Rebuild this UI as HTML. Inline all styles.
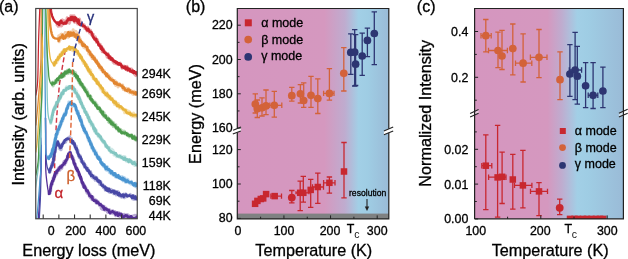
<!DOCTYPE html>
<html><head><meta charset="utf-8"><style>
html,body{margin:0;padding:0;background:#fff;}
svg{display:block;font-family:"Liberation Sans", sans-serif;will-change:transform;}
</style></head><body>
<svg width="628" height="259" viewBox="0 0 628 259">
<rect width="628" height="259" fill="#fff"/>
<defs><clipPath id="ca"><rect x="35.75" y="8.5" width="101.5" height="210.25"/></clipPath><clipPath id="cb"><rect x="237.3" y="8.5" width="151.5" height="210.5"/></clipPath><clipPath id="cc"><rect x="474.6" y="8.5" width="148.8" height="210.5"/></clipPath><linearGradient id="gb" x1="237.3" x2="388.8" y1="0" y2="0" gradientUnits="userSpaceOnUse"><stop offset="0" stop-color="#d596bf"/><stop offset="0.575" stop-color="#d598bf"/><stop offset="0.71" stop-color="#bfaccf"/><stop offset="0.8" stop-color="#a2cfe6"/><stop offset="0.86" stop-color="#9fcde4"/><stop offset="1" stop-color="#9abbd7"/></linearGradient><linearGradient id="gc" x1="474.6" x2="623.4" y1="0" y2="0" gradientUnits="userSpaceOnUse"><stop offset="0" stop-color="#d596bf"/><stop offset="0.49" stop-color="#d598bf"/><stop offset="0.585" stop-color="#bfaccf"/><stop offset="0.69" stop-color="#a2cfe6"/><stop offset="0.76" stop-color="#9fcde4"/><stop offset="1" stop-color="#9abbd7"/></linearGradient></defs>
<g clip-path="url(#ca)" fill="none" stroke-width="1.45" stroke-dasharray="5,2.6">
<path d="M65.3,50 L59.4,84.4 L56.6,118 L54.7,158 L54.6,174" stroke="#d23645"/>
</g>
<g clip-path="url(#ca)" fill="none" stroke-linejoin="round" stroke-linecap="round">
<path d="M38.3,222 L38.32,221.44 L38.34,220.74 L38.37,219.91 L38.41,218.93 L38.45,217.79 L38.52,216.48 L38.6,215 L38.65,214.24 L38.7,213.44 L38.76,212.59 L38.82,211.7 L38.89,210.78 L38.96,209.82 L39.04,208.82 L39.11,207.8 L39.19,206.74 L39.26,205.67 L39.34,204.57 L39.41,203.45 L39.48,202.31 L39.54,201.16 L39.6,200 L39.64,199.11 L39.68,198.18 L39.72,197.22 L39.76,196.24 L39.79,195.23 L39.83,194.21 L39.86,193.17 L39.9,192.12 L39.93,191.06 L39.96,190 L39.99,188.94 L40.03,187.88 L40.06,186.83 L40.09,185.79 L40.12,184.77 L40.16,183.76 L40.19,182.78 L40.23,181.82 L40.26,180.89 L40.3,180 L40.35,178.87 L40.41,177.79 L40.47,176.76 L40.53,175.77 L40.59,174.81 L40.66,173.88 L40.72,172.96 L40.78,172.04 L40.84,171.12 L40.9,170.19 L40.95,169.23 L41,168.24 L41.04,167.21 L41.07,166.13 L41.1,165 L41.12,164.09 L41.13,163.11 L41.13,162.08 L41.14,161 L41.14,159.88 L41.13,158.74 L41.13,157.57 L41.12,156.4 L41.11,155.23 L41.1,154.06 L41.09,152.92 L41.08,151.8 L41.06,150.72 L41.05,149.69 L41.04,148.71 L41.03,147.8 L41.02,146.96 L41.01,146.21 L41,145.55 L41,145" stroke="#552f97" stroke-width="1.25"/>
<path d="M45.5,118 L45.5,118.55 L45.51,119.21 L45.52,119.97 L45.53,120.81 L45.53,121.74 L45.54,122.75 L45.55,123.83 L45.56,124.96 L45.57,126.16 L45.58,127.4 L45.59,128.68 L45.6,130 L45.61,130.82 L45.61,131.68 L45.62,132.57 L45.62,133.49 L45.62,134.44 L45.63,135.41 L45.64,136.41 L45.64,137.42 L45.65,138.46 L45.65,139.5 L45.66,140.55 L45.66,141.62 L45.66,142.68 L45.67,143.75 L45.68,144.81 L45.68,145.87 L45.69,146.92 L45.69,147.96 L45.7,148.99 L45.7,150 L45.7,151.01 L45.71,152.03 L45.7,153.07 L45.7,154.11 L45.7,155.16 L45.7,156.22 L45.69,157.28 L45.69,158.34 L45.68,159.39 L45.68,160.44 L45.68,161.48 L45.68,162.5 L45.68,163.52 L45.69,164.51 L45.7,165.49 L45.71,166.45 L45.73,167.38 L45.75,168.28 L45.77,169.16 L45.8,170 L45.86,171.24 L45.92,172.44 L46,173.58 L46.09,174.68 L46.18,175.74 L46.28,176.76 L46.38,177.74 L46.49,178.68 L46.59,179.6 L46.7,180.48 L46.8,181.35 L46.9,182.18 L47,183 L47.15,184.27 L47.31,185.46 L47.47,186.57 L47.63,187.61 L47.78,188.56 L47.93,189.45 L48.07,190.26 L48.2,191 L48.53,192.57 L48.81,193.62 L49,194.3" stroke="#552f97" stroke-width="1.3"/>
<path d="M49,192.19 L49.16,191.78 L49.39,192.36 L49.66,191.6 L49.94,192.75 L50.2,193.05 L50.34,190.14 L50.47,191.66 L50.59,191.16 L50.72,190.24 L50.85,186.79 L51.01,185.32 L51.19,184.52 L51.4,183.54 L51.58,182.95 L51.77,184.19 L51.97,184.77 L52.18,183.83 L52.41,181.53 L52.64,181.62 L52.88,181.59 L53.13,177.71 L53.39,179.61 L53.64,180.07 L53.9,178.86 L54.19,178.02 L54.49,176.1 L54.81,174.05 L55.12,176.08 L55.45,173.34 L55.78,174.77 L56.11,174.9 L56.44,171.71 L56.77,171.17 L57.1,173.1 L57.63,171.41 L58.14,168.41 L58.65,167.79 L59.19,167.48 L59.76,170.37 L60.4,169.27 L60.82,165.85 L61.26,168.4 L61.73,168.56 L62.21,166.56 L62.7,164.6 L63.2,164.89 L63.71,162.39 L64.21,161.21 L64.71,164.81 L65.2,162.67 L65.57,161.5 L65.95,162.59 L66.32,159.53 L66.7,160.62 L67.08,159.51 L67.45,155.86 L67.83,155.18 L68.21,154.58 L68.59,153.64 L68.97,154.63 L69.35,152.75 L69.72,153.24 L70.1,151.95 L70.39,155.59 L70.68,153.38 L70.96,154.24 L71.25,155.3 L71.54,157.33 L71.83,155.82 L72.12,158.77 L72.41,157.69 L72.69,158.64 L72.98,159.45 L73.27,158.05 L73.56,160.8 L73.85,160.51 L74.14,160.54 L74.42,164.9 L74.71,162.84 L75,164.88 L75.29,166.67 L75.58,166.56 L75.87,166.18 L76.16,167.69 L76.44,168.5 L76.73,170.17 L77.02,167.77 L77.31,170.44 L77.6,169.69 L77.89,170.46 L78.18,173.32 L78.47,172.77 L78.75,173.66 L79.04,175.2 L79.33,176.53 L79.61,175.09 L79.9,176.5 L80.18,176.7 L80.47,177.41 L80.75,178.92 L81.03,178.55 L81.32,179.63 L81.6,180.1 L81.88,182.9 L82.16,182.53 L82.44,184.04 L82.72,185.03 L83,182.67 L83.28,184.69 L83.57,187.07 L83.85,187.25 L84.13,184.72 L84.42,185.24 L84.7,187.24 L85.1,186.33 L85.49,187.77 L85.88,187.67 L86.27,190.94 L86.65,192.03 L87.04,193.09 L87.44,190.3 L87.84,193.35 L88.26,193.63 L88.69,191.86 L89.14,195.73 L89.6,196.69 L90.04,193.9 L90.5,197.75 L90.96,195.83 L91.43,196.8 L91.91,199.62 L92.4,199.49 L92.9,197.05 L93.41,198.83 L93.93,199.77 L94.46,199.54 L95,199.45 L95.54,200.55 L96.1,202.9 L96.63,200.25 L97.17,203.14 L97.73,203.14 L98.3,201.75 L98.87,203.66 L99.46,205.47 L100.05,205.46 L100.64,203.94 L101.24,208.54 L101.84,208.12 L102.44,209.38 L103.03,205.93 L103.62,207.06 L104.2,206.44 L104.87,210.18 L105.55,208.31 L106.22,208.06 L106.9,209.73 L107.57,212.27 L108.24,212.19 L108.92,209.99 L109.59,209.8 L110.27,213.54 L110.94,212.27 L111.62,213.13 L112.3,210.66 L112.98,210.78 L113.66,213.85 L114.35,212.91 L115.03,211.55 L115.71,215.65 L116.4,214.49 L117.09,215.44 L117.77,212.41 L118.45,216.06 L119.14,212.7 L119.82,216.45 L120.5,214.79 L121.24,214.47 L121.98,215.62 L122.72,217.48 L123.45,214.71 L124.19,214.26 L124.92,216.21 L125.66,215.08 L126.39,214.65 L127.13,215.03 L127.86,214.66 L128.6,215.46 L129.36,216.07 L130.15,216.14 L130.97,218.27 L131.79,216.25 L132.61,217.27 L133.41,215.89 L134.18,216.71 L134.91,215.29 L135.58,216.39 L136.18,215.38 L136.7,218.64 L137.98,217.95 L138.62,216.38 L139,217.69" stroke="#552f97" stroke-width="3.0" stroke-opacity="0.4"/>
<path d="M49,193.81 L49.22,192.8 L49.52,193.45 L49.87,190.9 L50.2,191.1 L50.36,189.91 L50.5,188.26 L50.65,188.67 L50.79,186.45 L50.96,186.63 L51.16,184.65 L51.4,183.75 L51.62,183.93 L51.85,184.26 L52.11,181.47 L52.38,180.92 L52.67,181.21 L52.97,181.27 L53.27,179.41 L53.58,178.09 L53.9,178.93 L54.22,175.55 L54.56,177.04 L54.91,174.66 L55.27,173.48 L55.63,172.65 L56,172.46 L56.37,173.19 L56.74,170.78 L57.1,171.33 L57.73,170.68 L58.34,169.35 L58.97,169.35 L59.64,167.44 L60.4,166.67 L60.87,166.55 L61.36,167.32 L61.89,166.02 L62.42,165.08 L62.98,165.18 L63.54,164.12 L64.1,162.97 L64.65,163.6 L65.2,162.56 L65.6,160.61 L66.01,160.72 L66.42,159.68 L66.83,159.7 L67.23,158.32 L67.64,156.12 L68.05,157.17 L68.46,153.96 L68.87,154.14 L69.28,154.6 L69.69,152.64 L70.1,153.57 L70.43,152.5 L70.75,154.6 L71.08,155.36 L71.41,155.44 L71.73,157 L72.06,156.23 L72.39,158.18 L72.71,158.82 L73.04,159.74 L73.37,160.37 L73.69,162.42 L74.02,163.67 L74.35,163.27 L74.67,164.67 L75,163.77 L75.33,166.31 L75.65,166.89 L75.98,168.6 L76.31,168.85 L76.64,168.07 L76.96,169.09 L77.29,170.6 L77.62,169.52 L77.95,171.48 L78.27,171.38 L78.6,171.97 L78.93,172.54 L79.25,175.26 L79.58,174.22 L79.9,175.29 L80.22,176.46 L80.54,178.58 L80.86,177.16 L81.18,179 L81.5,180.1 L81.82,181.85 L82.14,182.48 L82.46,183.42 L82.78,182.57 L83.1,183.74 L83.42,184.34 L83.74,186.55 L84.06,187.46 L84.38,185.88 L84.7,186.59 L85.18,187.64 L85.65,188.45 L86.11,189.9 L86.58,190.9 L87.04,190.65 L87.52,190.57 L88.01,192.37 L88.52,192.87 L89.04,194.09 L89.6,195.87 L90.08,195.74 L90.57,195.86 L91.07,196.76 L91.59,197.54 L92.11,196.41 L92.65,199.4 L93.2,199.68 L93.76,200.56 L94.32,200.95 L94.91,200.42 L95.5,201.03 L96.1,200.79 L96.67,202.81 L97.26,201.75 L97.86,202.31 L98.47,203.25 L99.1,203.66 L99.73,204.69 L100.37,204.42 L101.01,204.78 L101.66,205.71 L102.3,206.05 L102.94,207.25 L103.57,206.75 L104.2,209.55 L104.94,209.29 L105.67,208.42 L106.41,209.13 L107.14,209.78 L107.88,210.2 L108.61,209.87 L109.35,212.24 L110.08,212.97 L110.82,211.8 L111.56,212.16 L112.3,211.34 L113.12,211.7 L113.94,212.67 L114.76,212.72 L115.58,214.56 L116.4,212.94 L117.22,212.79 L118.04,215.61 L118.86,214.65 L119.68,213.8 L120.5,215.12 L121.31,213.89 L122.13,215.5 L122.94,216.96 L123.75,216.84 L124.56,216.56 L125.36,215.52 L126.17,215.98 L126.98,215.58 L127.79,217.43 L128.6,216.89 L129.44,217.7 L130.31,216.56 L131.21,216.36 L132.12,218.09 L133.01,218.66 L133.88,218.36 L134.7,218.29 L135.45,218.39 L136.12,218.22 L136.7,216.83 L138.36,217.8 L139,217.4" stroke="#552f97" stroke-width="2.7"/>
<path d="M39.1,222 L39.13,221.48 L39.17,220.89 L39.21,220.17 L39.27,219.28 L39.33,218.15 L39.41,216.74 L39.5,215 L39.54,214.31 L39.58,213.57 L39.62,212.8 L39.67,211.99 L39.72,211.15 L39.77,210.27 L39.82,209.36 L39.88,208.42 L39.93,207.44 L39.99,206.44 L40.04,205.4 L40.1,204.34 L40.16,203.26 L40.21,202.14 L40.26,201.01 L40.32,199.85 L40.37,198.67 L40.41,197.46 L40.46,196.24 L40.5,195 L40.53,194.15 L40.55,193.27 L40.58,192.36 L40.61,191.42 L40.63,190.46 L40.66,189.48 L40.68,188.48 L40.71,187.46 L40.73,186.42 L40.76,185.37 L40.78,184.31 L40.8,183.24 L40.83,182.16 L40.85,181.08 L40.87,180 L40.89,178.92 L40.91,177.84 L40.93,176.76 L40.95,175.69 L40.97,174.63 L40.98,173.58 L41,172.54 L41.02,171.52 L41.03,170.52 L41.05,169.54 L41.06,168.58 L41.07,167.64 L41.08,166.73 L41.09,165.85 L41.1,165 L41.11,163.76 L41.12,162.54 L41.12,161.33 L41.13,160.15 L41.13,158.99 L41.12,157.86 L41.12,156.74 L41.12,155.66 L41.11,154.6 L41.1,153.56 L41.09,152.56 L41.08,151.58 L41.07,150.64 L41.06,149.73 L41.05,148.85 L41.04,148.01 L41.03,147.2 L41.02,146.43 L41.01,145.69 L41,145 L40.97,143.26 L40.94,141.85 L40.91,140.72 L40.88,139.83 L40.85,139.11 L40.82,138.52 L40.8,138" stroke="#4848a6" stroke-width="1.25"/>
<path d="M45.5,118 L45.5,118.55 L45.51,119.21 L45.52,119.97 L45.53,120.81 L45.53,121.74 L45.54,122.75 L45.55,123.83 L45.56,124.96 L45.57,126.16 L45.58,127.4 L45.59,128.68 L45.6,130 L45.6,130.83 L45.61,131.71 L45.61,132.63 L45.61,133.6 L45.61,134.6 L45.61,135.63 L45.61,136.69 L45.61,137.76 L45.61,138.85 L45.61,139.94 L45.61,141.03 L45.61,142.12 L45.61,143.2 L45.62,144.26 L45.63,145.3 L45.64,146.32 L45.65,147.3 L45.66,148.25 L45.68,149.15 L45.7,150 L45.74,151.25 L45.78,152.45 L45.82,153.6 L45.87,154.71 L45.92,155.78 L45.97,156.81 L46.03,157.8 L46.09,158.76 L46.16,159.67 L46.24,160.55 L46.32,161.4 L46.41,162.22 L46.5,163 L46.7,164.37 L46.93,165.61 L47.19,166.73 L47.45,167.73 L47.72,168.61 L47.97,169.37 L48.2,170 L48.96,170.94 L49.5,171" stroke="#4848a6" stroke-width="1.3"/>
<path d="M49.5,170.43 L49.7,170.08 L49.97,172.18 L50.29,169.61 L50.64,167.76 L51,167.18 L51.23,165.94 L51.46,164.37 L51.71,164.04 L51.97,166.72 L52.23,163.59 L52.49,165.76 L52.75,161.84 L53,160.95 L53.13,161.47 L53.27,159.4 L53.4,159.55 L53.53,161.44 L53.66,160.37 L53.8,159.28 L53.93,157.68 L54.06,158.15 L54.19,157.47 L54.33,154.91 L54.46,154.89 L54.59,151.12 L54.73,153.43 L54.86,151.45 L55,152.13 L55.17,150.81 L55.35,148.35 L55.53,146.42 L55.72,149.49 L55.9,145.06 L56.09,145.79 L56.27,144.44 L56.45,143.52 L56.62,144.85 L56.79,145.35 L56.95,141.68 L57.1,143.1 L57.6,141.2 L58.02,143.17 L58.5,143.53 L58.78,143.12 L59.07,143.92 L59.38,145.01 L59.7,148.95 L60.04,147.73 L60.4,146.75 L60.79,149.68 L61.2,149.65 L61.63,146.56 L62.08,144.4 L62.54,143.85 L63,142.67 L63.41,143.18 L63.84,141.37 L64.28,141.33 L64.73,140.7 L65.17,141.42 L65.59,142.24 L66,141.12 L66.66,138.91 L67.28,138.38 L67.89,138.53 L68.5,137.75 L69.09,137.67 L69.66,136.73 L70.27,138.22 L71,142.1 L71.38,138.75 L71.79,140.92 L72.22,142.02 L72.67,143.64 L73.14,141.36 L73.61,142.28 L74.08,142.9 L74.55,144.34 L75,145.36 L75.29,148.19 L75.57,148.32 L75.86,149.06 L76.14,145.91 L76.42,146.64 L76.71,150.37 L76.99,151.92 L77.28,150.75 L77.56,151.98 L77.85,150.07 L78.14,152.52 L78.42,155.61 L78.71,155.82 L79,156.59 L79.33,157.83 L79.65,155.27 L79.96,155.31 L80.27,156.16 L80.58,158.45 L80.89,159.8 L81.22,161.59 L81.55,161.25 L81.9,161.57 L82.28,162.77 L82.67,162.09 L83.1,163.23 L83.44,161.5 L83.79,165.41 L84.15,163.54 L84.52,167.23 L84.9,166.62 L85.29,165.72 L85.69,165.56 L86.1,166.75 L86.52,169.11 L86.94,170.02 L87.37,168.01 L87.81,168.44 L88.25,171.08 L88.69,171.94 L89.15,171.64 L89.6,171.46 L90.06,173.69 L90.54,171.57 L91.02,173.39 L91.51,174.6 L92.01,177.33 L92.52,176.4 L93.03,177.95 L93.55,176.6 L94.07,175.99 L94.59,176.51 L95.12,180.18 L95.64,179.5 L96.16,178.19 L96.68,177.39 L97.19,180 L97.7,181.28 L98.21,180.65 L98.72,180.44 L99.23,182.81 L99.75,184.51 L100.26,181.93 L100.78,181.62 L101.29,183.53 L101.81,184.44 L102.32,186.15 L102.83,184.5 L103.34,187.69 L103.84,187.92 L104.34,187.33 L104.83,186.42 L105.32,190.24 L105.8,187.66 L106.48,190.39 L107.14,188.13 L107.78,188.41 L108.4,191.1 L109.03,189.24 L109.65,192.4 L110.28,190.55 L110.92,189.37 L111.59,189.74 L112.28,190.85 L113,192.24 L113.59,193.76 L114.21,190.43 L114.84,191.81 L115.49,191.29 L116.15,194.99 L116.82,191.56 L117.49,191.45 L118.17,191.77 L118.85,193.55 L119.52,196.08 L120.18,196.27 L120.84,195.83 L121.48,197.24 L122.1,197.13 L122.88,194.64 L123.66,194.17 L124.42,197.68 L125.19,196.95 L125.94,193.85 L126.68,196.77 L127.41,195.58 L128.13,195.64 L128.84,195.54 L129.53,194.91 L130.2,194.27 L131.02,195.67 L131.83,196.16 L132.64,199.05 L133.43,195.5 L134.19,199.44 L134.9,196.22 L135.57,197.03 L136.17,199.24 L136.7,199.34 L137.86,197.73 L138.56,196 L139,197.88" stroke="#4848a6" stroke-width="3.0" stroke-opacity="0.4"/>
<path d="M49.5,172.22 L49.76,169.32 L50.12,170.49 L50.55,168.41 L51,167.49 L51.26,167.8 L51.53,165.94 L51.82,165.59 L52.12,165.37 L52.41,165.38 L52.71,162.65 L53,162.93 L53.15,161.91 L53.31,160.97 L53.46,159.52 L53.61,158.52 L53.76,156.81 L53.92,156.12 L54.07,155.03 L54.22,155.98 L54.38,153.7 L54.53,152.54 L54.69,151.45 L54.84,152.74 L55,152.04 L55.19,150.57 L55.39,148.54 L55.58,147.48 L55.79,146.69 L55.99,146.24 L56.19,144.53 L56.38,144.52 L56.58,143.28 L56.76,144.6 L56.94,144.11 L57.1,142.53 L57.81,141.7 L58.5,145.3 L58.84,144.23 L59.19,145.39 L59.57,145.43 L59.97,147.31 L60.4,147.93 L60.87,147.8 L61.37,146.35 L61.9,146.35 L62.44,144 L63,143.84 L63.48,142.63 L63.99,142.69 L64.51,140.85 L65.02,139.99 L65.52,140.05 L66,139.25 L66.87,139.34 L67.69,138.59 L68.5,139 L69.28,138.91 L70.06,139.62 L71,141.06 L71.43,140.18 L71.89,140.55 L72.39,143 L72.91,141.34 L73.43,143.68 L73.96,144.24 L74.49,143.41 L75,146.54 L75.33,147.35 L75.67,147.32 L76,148.37 L76.33,149.38 L76.66,148.31 L76.99,150.22 L77.33,151 L77.66,152.77 L77.99,153.51 L78.33,154.38 L78.66,154.49 L79,156.1 L79.36,156.29 L79.71,157.06 L80.05,156.48 L80.38,156.63 L80.72,157.61 L81.07,158.94 L81.43,158.92 L81.81,161.67 L82.21,161.62 L82.64,162.57 L83.1,163.35 L83.49,164.15 L83.89,164.28 L84.31,163.61 L84.74,166.54 L85.18,167.11 L85.63,167.15 L86.1,167.96 L86.58,169.03 L87.06,168.09 L87.56,170.68 L88.06,170.02 L88.57,170.21 L89.08,171.41 L89.6,173.34 L90.13,172.49 L90.67,174.58 L91.23,175.83 L91.8,175.04 L92.37,175.29 L92.96,176.11 L93.55,177.22 L94.14,177.99 L94.74,178.1 L95.34,178.71 L95.94,177.67 L96.53,178.4 L97.12,179.25 L97.7,181.18 L98.28,180.53 L98.87,181.87 L99.45,180.93 L100.04,181.69 L100.63,182.9 L101.22,184.66 L101.81,185.34 L102.39,185.9 L102.97,185.42 L103.55,186.62 L104.12,187.01 L104.69,187.52 L105.25,187.01 L105.8,189.6 L106.63,188.21 L107.42,190.83 L108.2,191.07 L108.96,188.79 L109.72,190.28 L110.49,191.53 L111.29,192.19 L112.12,191.02 L113,190.85 L113.69,190.98 L114.42,193.35 L115.16,191.62 L115.93,193 L116.71,192.11 L117.49,193.52 L118.28,195.06 L119.07,193.09 L119.85,195.32 L120.62,194.74 L121.37,196.06 L122.1,195.77 L122.96,194.67 L123.81,196.73 L124.65,195.72 L125.49,194.56 L126.31,194.6 L127.12,196.06 L127.92,196.04 L128.7,195.72 L129.46,195.37 L130.2,196.06 L131.12,196.16 L132.04,197.83 L132.94,195.68 L133.81,197.98 L134.64,198.42 L135.41,196.58 L136.1,198.98 L136.7,198.5 L138.26,199.16 L139,197.41" stroke="#4848a6" stroke-width="2.7"/>
<path d="M36.3,222 L36.36,221.48 L36.43,220.9 L36.51,220.27 L36.6,219.56 L36.69,218.76 L36.8,217.88 L36.91,216.88 L37.04,215.78 L37.17,214.55 L37.3,213.18 L37.45,211.67 L37.6,210 L37.66,209.27 L37.73,208.49 L37.8,207.66 L37.87,206.79 L37.95,205.87 L38.03,204.91 L38.11,203.92 L38.2,202.9 L38.28,201.85 L38.37,200.78 L38.45,199.69 L38.54,198.58 L38.63,197.45 L38.72,196.32 L38.81,195.19 L38.9,194.05 L38.99,192.91 L39.08,191.78 L39.17,190.66 L39.26,189.56 L39.34,188.46 L39.42,187.39 L39.51,186.35 L39.59,185.33 L39.66,184.34 L39.74,183.39 L39.81,182.47 L39.88,181.6 L39.94,180.78 L40,180 L40.11,178.57 L40.22,177.29 L40.32,176.12 L40.42,175.05 L40.51,174.07 L40.59,173.16 L40.67,172.29 L40.74,171.46 L40.81,170.64 L40.87,169.81 L40.93,168.97 L40.98,168.08 L41.02,167.13 L41.06,166.11 L41.1,165 L41.12,164.1 L41.14,163.14 L41.15,162.15 L41.16,161.11 L41.16,160.05 L41.16,158.96 L41.16,157.85 L41.15,156.74 L41.14,155.62 L41.13,154.5 L41.12,153.39 L41.1,152.3 L41.09,151.24 L41.08,150.2 L41.06,149.2 L41.05,148.25 L41.03,147.34 L41.02,146.5 L41.01,145.71 L41,145 L40.97,143.59 L40.92,142.96 L40.87,142.72 L40.82,142.49 L40.79,141.88 L40.78,140.51 L40.8,138 L40.81,137.39 L40.82,136.73 L40.83,136.04 L40.84,135.32 L40.86,134.55 L40.87,133.76 L40.89,132.93 L40.9,132.07 L40.92,131.18 L40.94,130.27 L40.96,129.32 L40.98,128.36 L41,127.37 L41.02,126.36 L41.04,125.34 L41.07,124.29 L41.09,123.23 L41.11,122.15 L41.14,121.06 L41.16,119.96 L41.19,118.85 L41.21,117.73 L41.24,116.61 L41.26,115.48 L41.29,114.34 L41.31,113.21 L41.34,112.07 L41.36,110.93 L41.39,109.8 L41.41,108.67 L41.44,107.55 L41.46,106.44 L41.49,105.33 L41.51,104.24 L41.53,103.16 L41.56,102.09 L41.58,101.04 L41.6,100 L41.62,99.01 L41.64,98 L41.66,96.96 L41.68,95.9 L41.71,94.82 L41.73,93.73 L41.75,92.61 L41.77,91.49 L41.8,90.35 L41.82,89.2 L41.84,88.05 L41.87,86.89 L41.89,85.72 L41.91,84.56 L41.94,83.39 L41.96,82.22 L41.98,81.06 L42,79.91 L42.03,78.76 L42.05,77.62 L42.07,76.5 L42.09,75.39 L42.12,74.29 L42.14,73.22 L42.16,72.16 L42.18,71.12 L42.2,70.11 L42.22,69.12 L42.24,68.16 L42.26,67.23 L42.27,66.34 L42.29,65.47 L42.31,64.64 L42.32,63.85 L42.34,63.1 L42.35,62.39 L42.37,61.72 L42.38,61.1 L42.39,60.53 L42.4,60" stroke="#4a95d1" stroke-width="1.25"/>
<path d="M45.3,-5 L45.3,-4.53 L45.3,-4.11 L45.31,-3.69 L45.31,-3.24 L45.32,-2.72 L45.32,-2.11 L45.33,-1.36 L45.33,-0.43 L45.33,0.7 L45.33,2.07 L45.32,3.72 L45.31,5.69 L45.3,8 L45.3,8.64 L45.29,9.3 L45.29,9.99 L45.28,10.71 L45.27,11.44 L45.27,12.2 L45.26,12.99 L45.25,13.79 L45.24,14.62 L45.23,15.46 L45.22,16.33 L45.21,17.21 L45.2,18.12 L45.19,19.04 L45.18,19.97 L45.17,20.93 L45.16,21.9 L45.15,22.88 L45.14,23.88 L45.13,24.89 L45.12,25.91 L45.11,26.94 L45.1,27.99 L45.08,29.05 L45.07,30.11 L45.06,31.19 L45.05,32.27 L45.04,33.36 L45.03,34.46 L45.02,35.56 L45.01,36.67 L45,37.79 L44.99,38.91 L44.98,40.03 L44.97,41.15 L44.96,42.28 L44.95,43.41 L44.95,44.54 L44.94,45.66 L44.93,46.79 L44.93,47.92 L44.92,49.04 L44.92,50.16 L44.91,51.28 L44.91,52.39 L44.9,53.5 L44.9,54.6 L44.9,55.7 L44.9,56.79 L44.9,57.87 L44.9,58.94 L44.9,60 L44.9,60.95 L44.9,61.92 L44.91,62.89 L44.91,63.88 L44.92,64.87 L44.92,65.88 L44.93,66.89 L44.93,67.91 L44.94,68.93 L44.95,69.97 L44.96,71.01 L44.97,72.05 L44.97,73.1 L44.98,74.16 L44.99,75.22 L45,76.28 L45.01,77.35 L45.03,78.42 L45.04,79.49 L45.05,80.57 L45.06,81.65 L45.07,82.72 L45.08,83.8 L45.1,84.88 L45.11,85.96 L45.12,87.03 L45.14,88.11 L45.15,89.18 L45.16,90.25 L45.18,91.32 L45.19,92.38 L45.2,93.44 L45.22,94.5 L45.23,95.55 L45.24,96.59 L45.26,97.63 L45.27,98.66 L45.28,99.69 L45.3,100.71 L45.31,101.72 L45.32,102.72 L45.34,103.72 L45.35,104.7 L45.36,105.67 L45.37,106.64 L45.38,107.59 L45.4,108.53 L45.41,109.46 L45.42,110.38 L45.43,111.28 L45.44,112.17 L45.45,113.05 L45.46,113.92 L45.47,114.76 L45.48,115.6 L45.49,116.41 L45.49,117.22 L45.5,118 L45.51,119.39 L45.52,120.76 L45.53,122.11 L45.54,123.43 L45.55,124.72 L45.55,125.99 L45.56,127.24 L45.56,128.46 L45.57,129.66 L45.57,130.83 L45.58,131.97 L45.58,133.09 L45.58,134.18 L45.58,135.25 L45.59,136.3 L45.59,137.31 L45.59,138.3 L45.59,139.27 L45.6,140.21 L45.6,141.12 L45.6,142.01 L45.61,142.87 L45.61,143.7 L45.62,144.51 L45.62,145.29 L45.63,146.04 L45.64,146.77 L45.65,147.47 L45.66,148.14 L45.67,148.79 L45.69,149.41 L45.7,150 L45.81,152.76 L45.93,154.04 L46.09,154.44 L46.27,154.56 L46.5,155 L47.06,156.26 L47.73,157.3 L48.2,158" stroke="#4a95d1" stroke-width="1.3"/>
<path d="M48.2,158.45 L48.61,157.96 L49.21,157.94 L49.87,155.96 L50.5,155.64 L50.76,155.89 L51.02,154.64 L51.28,155.08 L51.54,153.48 L51.8,152.75 L52.06,150.16 L52.31,152.08 L52.56,150.73 L52.8,148.81 L52.99,150.53 L53.18,149.92 L53.37,147.78 L53.56,145.8 L53.74,146.38 L53.92,143.99 L54.1,143.33 L54.28,143.92 L54.45,141.65 L54.63,142.47 L54.8,142.05 L54.96,139.22 L55.11,141.18 L55.25,137.99 L55.39,140.2 L55.52,139.69 L55.66,137.79 L55.81,135.02 L55.97,136.31 L56.15,135 L56.36,136.8 L56.6,132.37 L56.81,134.96 L57.05,134.91 L57.31,133.03 L57.58,132.7 L57.87,129.19 L58.16,131.99 L58.46,129.07 L58.76,130.43 L59.06,129.54 L59.36,125.48 L59.64,127.6 L59.91,127.6 L60.17,123.12 L60.4,123.83 L60.76,124.76 L61.08,121.3 L61.37,123.91 L61.64,120.47 L61.9,122.27 L62.18,118.62 L62.47,119.55 L62.8,120.68 L63.09,116.87 L63.39,116.49 L63.7,116.94 L64.02,115.46 L64.34,113.54 L64.67,113.52 L65.01,112.73 L65.34,115.49 L65.67,113.59 L66,113.77 L66.25,109.86 L66.51,111.89 L66.78,108.1 L67.04,109.14 L67.31,108.77 L67.58,106.69 L67.84,108.16 L68.11,105.94 L68.36,105.3 L68.61,105.98 L68.85,101.9 L69.08,105.38 L69.3,103.38 L70.1,101.97 L70.77,104.59 L71.5,102.95 L72.34,106.22 L73.24,104.34 L74.2,104.07 L74.47,106.3 L74.75,105.35 L75.03,104.74 L75.32,107.92 L75.62,105.5 L75.91,109.68 L76.21,107.9 L76.51,110.39 L76.81,112.7 L77.1,111.66 L77.4,112.73 L77.67,111.82 L77.95,111.1 L78.24,111.93 L78.53,113.15 L78.81,115.94 L79.1,115.83 L79.38,116.89 L79.66,119.31 L79.94,116.58 L80.2,117.68 L80.46,120.25 L80.7,118.06 L80.97,118.69 L81.2,120.94 L81.41,120.46 L81.6,122.2 L81.8,122.22 L82,124.46 L82.22,125.13 L82.47,124.1 L82.76,126.73 L83.1,126.89 L83.34,125.92 L83.59,130.09 L83.87,127.58 L84.15,127.78 L84.45,128.18 L84.76,131.26 L85.08,132.97 L85.4,133.25 L85.73,132.23 L86.06,132.31 L86.39,131.87 L86.72,135.4 L87.05,135.73 L87.38,135.47 L87.69,137.48 L88,137.25 L88.28,140.1 L88.57,139.83 L88.85,138.32 L89.13,141.91 L89.41,138.73 L89.69,141.59 L89.96,141.7 L90.24,141.61 L90.52,141.48 L90.8,145.37 L91.08,142.6 L91.36,145.66 L91.65,148.05 L91.93,145.1 L92.22,145.97 L92.51,148.4 L92.8,148.53 L93.16,149.82 L93.51,151.25 L93.87,149.02 L94.23,150.24 L94.59,150.8 L94.95,150.27 L95.31,154.62 L95.68,154.72 L96.05,154.99 L96.43,152.4 L96.81,156.73 L97.2,156.88 L97.6,156.23 L98,158.08 L98.38,157.38 L98.76,156.96 L99.15,157.04 L99.53,158.22 L99.92,157.98 L100.32,159.94 L100.72,162.42 L101.12,162.8 L101.54,164.09 L101.96,164.1 L102.38,162.7 L102.82,164.58 L103.27,164.62 L103.73,166.76 L104.2,166.1 L104.68,165.47 L105.18,167.66 L105.7,169.6 L106.22,166.73 L106.76,170.17 L107.3,166.76 L107.85,168.31 L108.4,168.64 L108.96,171.35 L109.52,172.68 L110.08,172.21 L110.64,170.74 L111.2,173.62 L111.75,171.54 L112.3,171.53 L112.93,174.96 L113.56,174.14 L114.19,174.83 L114.82,175.1 L115.45,176.88 L116.08,174.97 L116.72,177 L117.35,176.72 L117.98,177.79 L118.61,176.26 L119.24,177.9 L119.87,177.56 L120.5,176.74 L121.13,176.67 L121.75,178.86 L122.38,176.78 L123,180.87 L123.62,177.79 L124.25,177.61 L124.87,178.31 L125.49,182.33 L126.11,180.05 L126.73,179.47 L127.35,179.28 L127.98,179.65 L128.6,182.86 L129.29,182.92 L130.02,183.53 L130.76,184.04 L131.51,181.35 L132.27,184.02 L133.01,183.3 L133.74,185.62 L134.43,185.9 L135.08,186.47 L135.69,183 L136.23,186.78 L136.7,187.16 L137.98,187.59 L138.62,183.8 L139,184.18" stroke="#4a95d1" stroke-width="3.0" stroke-opacity="0.4"/>
<path d="M48.2,157.64 L48.8,158.8 L49.65,156.18 L50.5,155.62 L50.79,156.57 L51.08,153.51 L51.38,153.88 L51.67,154.25 L51.96,153.32 L52.25,150.45 L52.53,149.57 L52.8,148.78 L53.01,150.46 L53.22,147.85 L53.43,148.44 L53.63,148.06 L53.83,145.67 L54.03,144.66 L54.22,145.74 L54.42,143.96 L54.61,142.14 L54.8,142.61 L54.98,140.69 L55.14,139.8 L55.29,138.26 L55.44,139.59 L55.59,139.26 L55.75,137.68 L55.92,137.75 L56.12,134.36 L56.34,134.12 L56.6,133.93 L56.85,134.53 L57.13,133.73 L57.44,131.32 L57.77,130.11 L58.11,129.76 L58.46,129.09 L58.81,129.46 L59.16,126.55 L59.5,127.49 L59.82,126.55 L60.13,126.07 L60.4,125.26 L60.81,123.8 L61.16,122.14 L61.48,121.34 L61.79,120.73 L62.1,121.19 L62.43,118.46 L62.8,117.95 L63.12,118.81 L63.46,116.7 L63.8,115.48 L64.16,114.68 L64.53,115.39 L64.9,114 L65.27,115.04 L65.64,113.94 L66,113.37 L66.28,110.63 L66.56,109.32 L66.84,108.49 L67.13,108.72 L67.42,108.4 L67.71,106.75 L68,105.27 L68.28,104.95 L68.55,104.76 L68.81,104.25 L69.06,103.9 L69.3,103.77 L70.1,102.91 L70.77,102.19 L71.5,104.95 L72.34,103.45 L73.24,104.18 L74.2,104.34 L74.53,105.88 L74.88,105.02 L75.23,105.9 L75.58,106.73 L75.94,107.36 L76.31,110.33 L76.67,110.41 L77.04,110.63 L77.4,111.71 L77.7,114.1 L78.01,113.48 L78.32,113.46 L78.63,115.84 L78.94,116.17 L79.26,117.89 L79.56,116.17 L79.86,117.97 L80.15,119.68 L80.43,120.46 L80.7,121.36 L80.99,119.71 L81.25,121.16 L81.47,121.37 L81.69,122.25 L81.91,125.13 L82.15,124.74 L82.42,126.47 L82.73,125.73 L83.1,128.03 L83.37,127.49 L83.67,127.63 L83.99,129.77 L84.32,130.96 L84.67,129.35 L85.03,131.48 L85.4,132.32 L85.78,131.98 L86.15,133.19 L86.53,133.35 L86.91,134.32 L87.28,135.26 L87.65,137 L88,137.92 L88.32,137.39 L88.64,137.59 L88.96,139.22 L89.28,140.96 L89.59,140.34 L89.91,141.46 L90.22,141.91 L90.54,144.33 L90.86,144.39 L91.17,143.78 L91.49,144.62 L91.82,146.16 L92.14,147.3 L92.47,148.23 L92.8,147.36 L93.22,148.35 L93.63,150.6 L94.05,150.54 L94.47,150.89 L94.89,151.65 L95.31,154.14 L95.74,153.02 L96.18,154.41 L96.62,154.5 L97.07,155.35 L97.53,157.3 L98,158.39 L98.44,157.3 L98.88,157.53 L99.32,159.73 L99.77,158.98 L100.23,159.15 L100.69,162.38 L101.15,161.76 L101.63,163.58 L102.12,163.12 L102.62,165.14 L103.13,164.63 L103.66,164.44 L104.2,164.64 L104.76,166.74 L105.34,167.57 L105.94,168.89 L106.55,167.14 L107.17,169.17 L107.81,168.99 L108.45,169.87 L109.09,169.37 L109.74,170.24 L110.39,171.38 L111.03,172.98 L111.67,171.15 L112.3,172.67 L113.04,174.07 L113.79,175.01 L114.53,173.33 L115.28,173.59 L116.03,176.32 L116.77,176.84 L117.52,175.88 L118.27,175.1 L119.01,177.96 L119.76,176.87 L120.5,178.73 L121.24,178.36 L121.98,179.35 L122.72,177.91 L123.45,180.08 L124.19,178.92 L124.92,179.84 L125.66,181.47 L126.39,181.81 L127.13,180.39 L127.86,180.85 L128.6,181.72 L129.44,182.44 L130.31,182.45 L131.21,182.11 L132.12,182.84 L133.01,184.54 L133.88,185.37 L134.7,183.29 L135.45,185.03 L136.12,185.82 L136.7,184.01 L138.36,186.55 L139,184.43" stroke="#4a95d1" stroke-width="2.7"/>
<path d="M35.2,190 L35.28,189.46 L35.37,188.85 L35.47,188.17 L35.58,187.43 L35.7,186.63 L35.83,185.78 L35.97,184.87 L36.11,183.92 L36.26,182.93 L36.42,181.9 L36.57,180.83 L36.74,179.74 L36.9,178.63 L37.07,177.49 L37.23,176.34 L37.4,175.18 L37.56,174.02 L37.72,172.85 L37.88,171.69 L38.03,170.53 L38.18,169.38 L38.32,168.25 L38.46,167.14 L38.58,166.06 L38.7,165 L38.8,164.04 L38.9,163.09 L39,162.15 L39.1,161.21 L39.19,160.28 L39.29,159.35 L39.38,158.42 L39.47,157.49 L39.55,156.56 L39.64,155.62 L39.72,154.68 L39.8,153.74 L39.88,152.79 L39.96,151.83 L40.03,150.86 L40.11,149.89 L40.18,148.89 L40.25,147.89 L40.32,146.87 L40.38,145.83 L40.45,144.78 L40.51,143.7 L40.57,142.61 L40.63,141.49 L40.69,140.35 L40.75,139.19 L40.8,138 L40.84,137.14 L40.87,136.26 L40.91,135.37 L40.94,134.47 L40.97,133.56 L41,132.64 L41.03,131.7 L41.05,130.76 L41.08,129.8 L41.1,128.84 L41.13,127.86 L41.15,126.88 L41.17,125.89 L41.19,124.89 L41.21,123.89 L41.23,122.88 L41.25,121.86 L41.26,120.84 L41.28,119.81 L41.3,118.78 L41.31,117.74 L41.33,116.71 L41.35,115.66 L41.36,114.62 L41.38,113.57 L41.39,112.52 L41.41,111.47 L41.42,110.42 L41.44,109.37 L41.45,108.32 L41.47,107.27 L41.49,106.23 L41.5,105.18 L41.52,104.14 L41.54,103.1 L41.56,102.06 L41.58,101.03 L41.6,100 L41.62,99.02 L41.64,98.03 L41.66,97.03 L41.68,96.01 L41.71,94.99 L41.73,93.96 L41.75,92.93 L41.77,91.89 L41.8,90.84 L41.82,89.79 L41.84,88.73 L41.87,87.67 L41.89,86.61 L41.91,85.55 L41.94,84.49 L41.96,83.42 L41.98,82.36 L42,81.3 L42.03,80.24 L42.05,79.19 L42.07,78.14 L42.09,77.09 L42.12,76.05 L42.14,75.02 L42.16,73.99 L42.18,72.97 L42.2,71.96 L42.22,70.96 L42.24,69.97 L42.26,68.99 L42.27,68.03 L42.29,67.07 L42.31,66.13 L42.32,65.21 L42.34,64.3 L42.35,63.4 L42.37,62.52 L42.38,61.66 L42.39,60.82 L42.4,60 L42.41,58.73 L42.43,57.5 L42.43,56.32 L42.44,55.17 L42.44,54.07 L42.44,53 L42.44,51.97 L42.44,50.96 L42.43,49.98 L42.43,49.02 L42.42,48.07 L42.42,47.15 L42.41,46.23 L42.4,45.32 L42.4,44.42 L42.39,43.53 L42.38,42.63 L42.38,41.72 L42.38,40.81 L42.37,39.89 L42.37,38.95 L42.38,38 L42.38,37.02 L42.39,36.03 L42.4,35 L42.41,34.03 L42.43,33.03 L42.44,32.01 L42.46,30.98 L42.48,29.93 L42.5,28.87 L42.53,27.79 L42.55,26.71 L42.58,25.63 L42.6,24.54 L42.63,23.45 L42.66,22.37 L42.69,21.29 L42.71,20.21 L42.74,19.15 L42.77,18.1 L42.8,17.06 L42.82,16.04 L42.85,15.03 L42.87,14.05 L42.9,13.1 L42.92,12.17 L42.94,11.27 L42.96,10.4 L42.97,9.56 L42.99,8.76 L43,8 L43.02,6.51 L43.03,5.1 L43.04,3.78 L43.04,2.54 L43.04,1.39 L43.04,0.32 L43.03,-0.67 L43.03,-1.58 L43.02,-2.42 L43.01,-3.17 L43.01,-3.86 L43,-4.46 L43,-5" stroke="#82c6c1" stroke-width="1.25"/>
<path d="M45.3,-5 L45.3,-4.46 L45.29,-3.86 L45.28,-3.17 L45.27,-2.42 L45.26,-1.58 L45.25,-0.67 L45.24,0.32 L45.23,1.39 L45.23,2.54 L45.24,3.78 L45.25,5.1 L45.27,6.51 L45.3,8 L45.32,8.77 L45.34,9.59 L45.36,10.45 L45.39,11.36 L45.41,12.31 L45.44,13.29 L45.47,14.3 L45.51,15.34 L45.54,16.41 L45.58,17.49 L45.61,18.59 L45.65,19.7 L45.69,20.82 L45.73,21.94 L45.76,23.05 L45.8,24.17 L45.84,25.28 L45.88,26.37 L45.92,27.45 L45.96,28.51 L46,29.54 L46.03,30.54 L46.07,31.51 L46.1,32.45 L46.14,33.35 L46.17,34.2 L46.2,35 L46.25,36.32 L46.31,37.49 L46.36,38.53 L46.42,39.47 L46.47,40.33 L46.52,41.14 L46.57,41.93 L46.62,42.7 L46.67,43.5 L46.72,44.33 L46.76,45.24 L46.8,46.23 L46.84,47.34 L46.87,48.59 L46.9,50 L46.91,50.77 L46.92,51.57 L46.93,52.41 L46.94,53.29 L46.95,54.19 L46.95,55.12 L46.96,56.08 L46.96,57.05 L46.96,58.05 L46.96,59.07 L46.96,60.11 L46.96,61.16 L46.96,62.22 L46.96,63.29 L46.96,64.38 L46.96,65.46 L46.96,66.55 L46.96,67.64 L46.96,68.73 L46.96,69.81 L46.96,70.9 L46.96,71.97 L46.96,73.03 L46.96,74.08 L46.97,75.12 L46.97,76.13 L46.98,77.13 L46.98,78.11 L46.99,79.07 L47,80 L47.01,81.1 L47.02,82.21 L47.04,83.31 L47.05,84.42 L47.07,85.53 L47.08,86.63 L47.1,87.73 L47.11,88.82 L47.13,89.91 L47.15,90.98 L47.17,92.05 L47.18,93.1 L47.2,94.14 L47.22,95.17 L47.24,96.18 L47.27,97.17 L47.29,98.14 L47.31,99.08 L47.34,100.01 L47.36,100.91 L47.39,101.79 L47.41,102.64 L47.44,103.45 L47.47,104.24 L47.5,105 L47.56,106.48 L47.63,107.83 L47.69,109.07 L47.76,110.2 L47.83,111.25 L47.91,112.22 L47.99,113.12 L48.07,113.96 L48.17,114.76 L48.27,115.53 L48.38,116.27 L48.5,117 L48.87,118.6 L49.32,119.93 L49.8,121.01 L50.21,121.86 L50.5,122.5" stroke="#82c6c1" stroke-width="1.3"/>
<path d="M50.5,122.6 L50.62,121.66 L50.78,123.51 L50.96,119.53 L51.17,120.91 L51.39,118.8 L51.63,119.62 L51.86,115.91 L52.09,118.95 L52.3,115.35 L52.47,113.34 L52.63,113.65 L52.78,113.55 L52.93,111.16 L53.08,112.3 L53.25,111.62 L53.44,112.16 L53.65,109.88 L53.9,108.74 L54.2,107.77 L54.44,109.49 L54.7,109.77 L54.99,107.29 L55.28,105.27 L55.6,107.22 L55.93,104.72 L56.26,103.23 L56.61,102.19 L56.96,104.41 L57.31,103.88 L57.66,102.43 L58.01,101.03 L58.36,100.81 L58.7,98.67 L59.06,101.31 L59.43,97.89 L59.8,98.48 L60.18,98.6 L60.56,97.91 L60.93,95.67 L61.32,94.23 L61.7,94.72 L62.08,92.2 L62.46,94.78 L62.84,92.07 L63.22,93.76 L63.6,90.66 L64.16,90.5 L64.74,89.36 L65.33,89.61 L65.91,88.05 L66.49,86.8 L67.05,89.63 L67.58,87.31 L68.07,86.84 L68.5,86.81 L69.42,86.93 L70.07,86.37 L70.9,87.52 L71.33,87.85 L71.79,86.83 L72.28,89.75 L72.79,89.88 L73.33,86.84 L73.88,90.9 L74.44,91.95 L75,92.17 L75.33,89.77 L75.66,93.39 L76,93.07 L76.34,90.89 L76.7,91.5 L77.05,96.35 L77.41,95.69 L77.77,94.56 L78.12,94.58 L78.48,95.47 L78.84,96.59 L79.2,99.73 L79.55,98.51 L79.9,98.34 L80.21,102.33 L80.52,102.47 L80.83,100.35 L81.14,104.27 L81.46,103.69 L81.77,105.16 L82.09,105.36 L82.4,107.07 L82.71,107.29 L83.01,108.21 L83.31,106.01 L83.61,108.88 L83.89,108.8 L84.17,110.35 L84.44,109.58 L84.7,112.11 L85.09,111.46 L85.47,110.92 L85.83,111.5 L86.17,111.74 L86.5,113.96 L86.82,112.61 L87.12,115.03 L87.42,114.16 L87.71,116.29 L88,116.89 L88.34,117.79 L88.66,119.92 L88.97,116.75 L89.26,121.13 L89.54,120.08 L89.82,121.11 L90.11,122.16 L90.4,123.53 L90.77,122.13 L91.11,122.93 L91.44,125.93 L91.81,122.57 L92.26,125.81 L92.8,126.71 L93.09,124.48 L93.4,127.62 L93.73,128.51 L94.07,130.23 L94.43,128.16 L94.8,131.72 L95.19,130.27 L95.59,130.83 L95.99,133.35 L96.41,130.15 L96.83,133.89 L97.26,134.12 L97.7,133.48 L98.12,136.41 L98.56,134.78 L99.02,135.87 L99.49,136.7 L99.97,138.4 L100.46,136.5 L100.95,138.1 L101.44,138.64 L101.93,139.83 L102.41,141.63 L102.88,139.82 L103.34,142.78 L103.78,141.43 L104.2,142.42 L104.69,142.04 L105.15,143.73 L105.57,146.45 L105.96,145.63 L106.36,146.84 L106.75,145.36 L107.15,145.88 L107.58,146.37 L108.04,148.23 L108.54,149.03 L109.1,150.27 L109.58,147.4 L110.07,150.92 L110.59,152.11 L111.13,151.05 L111.69,149.3 L112.26,150.88 L112.84,150.02 L113.44,151.29 L114.05,155.02 L114.67,154.05 L115.29,154.7 L115.93,155.7 L116.56,156.65 L117.2,155.7 L117.8,156.07 L118.42,156.45 L119.05,157.08 L119.69,156.94 L120.34,157.62 L121,155.82 L121.67,158.14 L122.33,157.48 L123.01,159.13 L123.68,156.45 L124.35,157.09 L125.02,156.73 L125.69,160.32 L126.35,161.25 L127,160.4 L127.66,159.44 L128.36,161.81 L129.06,162.01 L129.79,161.37 L130.51,160.39 L131.24,160.96 L131.96,161.87 L132.67,161.78 L133.36,162.63 L134.02,163.92 L134.65,165.55 L135.24,161.91 L135.78,164.47 L136.27,162.34 L136.7,162.89 L138.1,166.47 L138.68,165.4 L139,166.88" stroke="#82c6c1" stroke-width="3.0" stroke-opacity="0.4"/>
<path d="M50.5,121.41 L50.64,120.7 L50.82,122.32 L51.04,121.43 L51.28,120.06 L51.54,119.67 L51.8,118.18 L52.06,116.29 L52.3,114.88 L52.49,114.13 L52.67,115.24 L52.83,112.96 L52.99,112.53 L53.17,112.07 L53.37,110.17 L53.6,110.03 L53.87,109.26 L54.2,109.6 L54.48,107.94 L54.79,107.09 L55.13,108.15 L55.49,106.1 L55.87,106.3 L56.26,104.86 L56.66,102.42 L57.07,102.7 L57.49,101.98 L57.9,102.15 L58.3,100.2 L58.7,100.47 L59.13,99.21 L59.57,97.5 L60.01,98.5 L60.45,95.53 L60.9,96.77 L61.35,94.17 L61.8,92.94 L62.25,92.77 L62.7,93.66 L63.15,93.62 L63.6,90.31 L64.32,90.85 L65.07,90.13 L65.83,90.35 L66.57,88.09 L67.28,88.47 L67.93,87.64 L68.5,88.63 L69.42,86.35 L70.07,87.94 L70.9,86.29 L71.39,86.38 L71.92,88.11 L72.5,88.01 L73.1,87.49 L73.72,89.64 L74.36,88.85 L75,91.71 L75.38,92.02 L75.77,92.9 L76.17,93.12 L76.58,93.07 L76.99,93.94 L77.41,94.7 L77.82,96.88 L78.24,95.44 L78.66,98.52 L79.08,96.93 L79.49,98.26 L79.9,99.24 L80.25,101.74 L80.6,101.36 L80.96,101.78 L81.32,103.98 L81.68,102.96 L82.04,104.4 L82.4,105.39 L82.75,106.81 L83.1,107.59 L83.44,108.06 L83.77,107.96 L84.09,108.61 L84.4,108.8 L84.7,111.36 L85.14,111.76 L85.55,112.82 L85.94,111.99 L86.32,113.47 L86.68,115.09 L87.02,115.21 L87.36,114.58 L87.68,116.15 L88,117.98 L88.39,116.98 L88.75,117.62 L89.09,118.68 L89.42,120.53 L89.74,121.62 L90.07,120.37 L90.4,121.04 L90.84,122.11 L91.24,123.03 L91.66,124.28 L92.16,124.09 L92.8,125.62 L93.15,125.82 L93.52,128.66 L93.91,128.66 L94.33,127.63 L94.77,130.8 L95.22,129.17 L95.7,130.75 L96.18,133.23 L96.68,133.49 L97.19,134.1 L97.7,134.02 L98.15,133.98 L98.63,135.86 L99.12,135.02 L99.63,135.95 L100.16,137.11 L100.68,136.76 L101.22,138.43 L101.74,140.17 L102.27,140.53 L102.78,140.62 L103.27,141.6 L103.75,141.72 L104.2,141.4 L104.74,143.42 L105.23,143.56 L105.69,145.18 L106.12,146.32 L106.55,145.63 L106.99,146.67 L107.45,147.8 L107.94,147.51 L108.49,147.6 L109.1,149.62 L109.66,150.6 L110.25,150.84 L110.86,151.18 L111.5,152.15 L112.16,152.2 L112.84,152.63 L113.54,152.63 L114.26,152.75 L114.98,154.14 L115.71,153.14 L116.46,154.52 L117.2,155.99 L117.9,156.2 L118.62,156.34 L119.35,155.65 L120.09,156.48 L120.85,156.91 L121.62,157.71 L122.39,157.44 L123.16,158.51 L123.94,159.55 L124.71,157.78 L125.48,159.44 L126.24,160.12 L127,159.39 L127.77,160.05 L128.57,161.81 L129.4,159.6 L130.23,161.45 L131.07,160.81 L131.91,162.98 L132.72,163.85 L133.51,163.08 L134.26,162.29 L134.97,163.98 L135.62,164.2 L136.2,164.98 L136.7,164.63 L138.46,165.5 L139,165.92" stroke="#82c6c1" stroke-width="2.7"/>
<path d="M35.9,175 L35.99,174.45 L36.11,173.81 L36.25,173.07 L36.41,172.26 L36.58,171.37 L36.76,170.42 L36.95,169.4 L37.15,168.34 L37.34,167.22 L37.53,166.07 L37.71,164.89 L37.88,163.69 L38.04,162.47 L38.18,161.23 L38.3,160 L38.37,159.16 L38.43,158.32 L38.48,157.48 L38.52,156.64 L38.56,155.79 L38.59,154.94 L38.61,154.07 L38.64,153.19 L38.66,152.29 L38.68,151.37 L38.69,150.44 L38.71,149.48 L38.73,148.49 L38.75,147.47 L38.77,146.42 L38.8,145.34 L38.83,144.23 L38.87,143.07 L38.92,141.87 L38.97,140.63 L39.03,139.34 L39.1,138 L39.15,137.2 L39.19,136.38 L39.25,135.54 L39.3,134.68 L39.36,133.81 L39.42,132.92 L39.48,132.01 L39.54,131.08 L39.61,130.15 L39.68,129.19 L39.75,128.23 L39.82,127.25 L39.89,126.26 L39.97,125.26 L40.04,124.25 L40.12,123.23 L40.2,122.2 L40.27,121.17 L40.35,120.12 L40.43,119.08 L40.5,118.02 L40.58,116.96 L40.66,115.9 L40.73,114.83 L40.81,113.76 L40.88,112.69 L40.95,111.62 L41.02,110.55 L41.09,109.48 L41.16,108.41 L41.22,107.34 L41.28,106.28 L41.34,105.22 L41.4,104.16 L41.45,103.11 L41.51,102.07 L41.55,101.03 L41.6,100 L41.64,99.03 L41.68,98.06 L41.72,97.1 L41.75,96.14 L41.79,95.18 L41.82,94.22 L41.85,93.27 L41.88,92.32 L41.91,91.37 L41.94,90.42 L41.97,89.47 L41.99,88.52 L42.02,87.58 L42.04,86.63 L42.06,85.67 L42.09,84.72 L42.11,83.76 L42.13,82.8 L42.14,81.84 L42.16,80.88 L42.18,79.9 L42.2,78.93 L42.21,77.95 L42.23,76.96 L42.24,75.97 L42.25,74.97 L42.27,73.96 L42.28,72.94 L42.29,71.92 L42.3,70.89 L42.31,69.85 L42.32,68.8 L42.34,67.74 L42.35,66.67 L42.35,65.59 L42.36,64.5 L42.37,63.39 L42.38,62.27 L42.39,61.14 L42.4,60 L42.41,59.1 L42.41,58.19 L42.42,57.25 L42.42,56.29 L42.43,55.31 L42.43,54.31 L42.43,53.3 L42.43,52.27 L42.43,51.23 L42.44,50.17 L42.44,49.1 L42.44,48.02 L42.44,46.93 L42.44,45.83 L42.43,44.72 L42.43,43.61 L42.43,42.49 L42.43,41.36 L42.43,40.23 L42.42,39.1 L42.42,37.97 L42.42,36.83 L42.41,35.7 L42.41,34.57 L42.4,33.44 L42.4,32.31 L42.4,31.19 L42.39,30.08 L42.39,28.97 L42.38,27.87 L42.38,26.78 L42.37,25.71 L42.37,24.64 L42.36,23.58 L42.36,22.54 L42.35,21.52 L42.35,20.51 L42.34,19.51 L42.34,18.54 L42.33,17.58 L42.33,16.65 L42.33,15.73 L42.32,14.84 L42.32,13.97 L42.32,13.13 L42.31,12.31 L42.31,11.52 L42.31,10.75 L42.3,10.02 L42.3,9.32 L42.3,8.64 L42.3,8 L42.3,5.69 L42.29,3.72 L42.29,2.07 L42.29,0.7 L42.29,-0.43 L42.29,-1.36 L42.29,-2.11 L42.3,-2.72 L42.3,-3.24 L42.3,-3.69 L42.3,-4.11 L42.3,-4.53 L42.3,-5" stroke="#4b9b4b" stroke-width="1.25"/>
<path d="M45.8,-5 L45.8,-4.51 L45.79,-4.01 L45.77,-3.48 L45.76,-2.91 L45.74,-2.27 L45.73,-1.53 L45.71,-0.69 L45.71,0.3 L45.7,1.44 L45.71,2.75 L45.73,4.27 L45.76,6.01 L45.8,8 L45.82,8.68 L45.83,9.4 L45.85,10.16 L45.87,10.96 L45.89,11.8 L45.92,12.67 L45.94,13.58 L45.97,14.51 L45.99,15.48 L46.02,16.47 L46.05,17.49 L46.08,18.53 L46.11,19.59 L46.14,20.67 L46.17,21.76 L46.2,22.87 L46.23,23.99 L46.27,25.13 L46.3,26.27 L46.33,27.41 L46.37,28.56 L46.4,29.71 L46.44,30.87 L46.47,32.02 L46.51,33.16 L46.55,34.3 L46.58,35.43 L46.62,36.56 L46.65,37.66 L46.69,38.76 L46.73,39.84 L46.76,40.89 L46.8,41.93 L46.83,42.95 L46.87,43.94 L46.9,44.9 L46.94,45.84 L46.97,46.74 L47,47.61 L47.04,48.44 L47.07,49.24 L47.1,50 L47.17,51.51 L47.23,52.95 L47.3,54.31 L47.37,55.61 L47.44,56.84 L47.51,58.01 L47.58,59.12 L47.65,60.18 L47.72,61.19 L47.79,62.16 L47.86,63.08 L47.93,63.96 L48,64.8 L48.06,65.61 L48.12,66.39 L48.18,67.15 L48.24,67.89 L48.3,68.61 L48.35,69.31 L48.4,70 L48.51,71.74 L48.6,73.11 L48.66,74.19 L48.72,75.08 L48.78,75.87 L48.87,76.64 L49,77.5 L49.24,78.79 L49.53,80.04 L49.84,81.18 L50.17,82.19 L50.5,83 L51.44,84.09 L52.2,84.5" stroke="#4b9b4b" stroke-width="1.3"/>
<path d="M52.2,82.35 L52.54,82.09 L52.99,85.95 L53.53,84.88 L54.13,82.62 L54.76,82.4 L55.39,80.46 L56,82.25 L56.52,80.23 L57.05,82.14 L57.59,80.91 L58.14,80.72 L58.69,80.93 L59.26,77.32 L59.83,75.9 L60.4,76.16 L60.92,75.63 L61.44,74.73 L61.97,74.1 L62.5,75.88 L63.04,76.8 L63.58,74.48 L64.12,76.21 L64.66,75.62 L65.2,71.45 L65.89,73.36 L66.59,71.97 L67.29,70.26 L67.99,73.61 L68.7,70.14 L69.4,71.32 L70.1,71.63 L70.71,73.15 L71.32,72.06 L71.94,71.11 L72.55,71.73 L73.16,70.89 L73.77,75.03 L74.39,75.74 L75,72.95 L75.38,72.58 L75.75,74.06 L76.13,75.03 L76.51,78.08 L76.89,78.7 L77.27,79.03 L77.65,76.14 L78.02,80.11 L78.4,80.43 L78.78,80.8 L79.15,82.96 L79.53,79.41 L79.9,80.41 L80.3,83.77 L80.7,85.21 L81.1,84.65 L81.5,83.57 L81.9,85.49 L82.3,86.84 L82.7,84.52 L83.1,86.1 L83.5,86.4 L83.9,86.41 L84.3,88.61 L84.7,87.82 L85.1,88.74 L85.51,88.93 L85.92,91.94 L86.33,89.58 L86.73,93.36 L87.14,91.63 L87.55,91.54 L87.96,96.14 L88.37,93.58 L88.78,97.37 L89.19,97.66 L89.6,98.34 L90.04,95.6 L90.47,97.57 L90.89,96.58 L91.31,100.88 L91.74,101.05 L92.16,100.66 L92.6,100.44 L93.05,100.52 L93.51,103.28 L93.99,102.35 L94.5,103.67 L94.92,102.03 L95.34,102.93 L95.79,102.76 L96.24,106.28 L96.7,106.15 L97.17,104.91 L97.65,108.76 L98.13,106.65 L98.61,107.91 L99.1,107.35 L99.58,108.46 L100.06,111.59 L100.53,109.9 L101,109.71 L101.5,111.75 L102.02,111.58 L102.53,114.79 L103.06,111.85 L103.58,116.31 L104.1,112.77 L104.61,117.1 L105.12,116.65 L105.63,115.16 L106.12,116.89 L106.59,116.55 L107.06,116.93 L107.5,117.16 L108.09,118.53 L108.62,121.92 L109.1,122.48 L109.56,122.65 L110.03,119.43 L110.51,120.79 L111.04,124.04 L111.63,120.86 L112.3,124.51 L112.75,123.01 L113.22,126.55 L113.72,122.73 L114.25,126.78 L114.79,125.23 L115.34,124.87 L115.91,124.8 L116.48,129.07 L117.06,128.24 L117.65,127.25 L118.23,128.89 L118.81,131.52 L119.39,128.89 L119.95,130.91 L120.5,129.38 L121.18,130.03 L121.86,133.09 L122.53,133.22 L123.21,131.27 L123.88,131.07 L124.56,131.43 L125.23,134.06 L125.9,133.85 L126.58,133.16 L127.25,133.15 L127.93,135.28 L128.6,136.03 L129.29,136.84 L130.02,136.17 L130.76,134.84 L131.51,134.6 L132.27,137.95 L133.01,136.86 L133.74,138.62 L134.43,135.97 L135.08,139.66 L135.69,137.81 L136.23,140.33 L136.7,140.63 L137.98,139.41 L138.62,137.33 L139,141.34" stroke="#4b9b4b" stroke-width="3.0" stroke-opacity="0.4"/>
<path d="M52.2,84.35 L52.61,82.76 L53.16,83.28 L53.83,83.23 L54.55,83.52 L55.29,82.97 L56,80.93 L56.59,80.26 L57.2,78.9 L57.82,79.94 L58.45,78.24 L59.1,77.57 L59.75,76.67 L60.4,76.11 L61.06,77.45 L61.74,75.26 L62.42,77 L63.11,73.92 L63.81,75.5 L64.51,72.86 L65.2,72.05 L66.01,73.45 L66.83,71.55 L67.64,72.4 L68.46,70.45 L69.28,69.8 L70.1,71.77 L70.8,71.72 L71.5,72.37 L72.2,72.38 L72.9,71.05 L73.6,73.15 L74.3,74.04 L75,74.09 L75.45,75.95 L75.89,74.66 L76.34,77.31 L76.79,77.33 L77.23,76.09 L77.68,76.87 L78.13,79.43 L78.57,80.67 L79.02,79.37 L79.46,80.76 L79.9,82.64 L80.38,81.82 L80.86,84.5 L81.34,84.19 L81.82,83.72 L82.3,85.31 L82.78,86.61 L83.26,86.95 L83.74,88.34 L84.22,87.58 L84.7,90.13 L85.19,89.65 L85.67,91.18 L86.16,91.88 L86.65,92.03 L87.14,92.68 L87.64,94.54 L88.13,95.71 L88.62,95.99 L89.11,96.09 L89.6,96.02 L90.08,96.04 L90.55,99.25 L91.02,99.13 L91.48,100.1 L91.95,99.33 L92.42,100.72 L92.91,102.39 L93.42,102.64 L93.95,102.67 L94.5,102.56 L94.99,103.52 L95.49,105.45 L96.01,104.69 L96.55,106.23 L97.09,106.69 L97.65,108.21 L98.21,108.66 L98.77,107.89 L99.34,107.8 L99.9,109.21 L100.45,110.33 L101,111.44 L101.55,112.73 L102.1,113.57 L102.66,111.85 L103.23,114.71 L103.79,115.29 L104.36,116.07 L104.91,115.86 L105.46,115.63 L105.99,117.84 L106.52,118.29 L107.02,118.49 L107.5,119.66 L108.16,118.79 L108.74,118.69 L109.28,120.58 L109.79,121.82 L110.33,120.7 L110.9,122.83 L111.55,123.98 L112.3,122.76 L112.82,124.3 L113.38,125.05 L113.96,125.03 L114.58,124.91 L115.21,125.67 L115.86,127.69 L116.53,128.44 L117.2,128.14 L117.87,127.71 L118.54,130.31 L119.21,130.77 L119.86,129.78 L120.5,131.22 L121.24,132.61 L121.98,133.03 L122.72,132.43 L123.45,132.68 L124.19,133.35 L124.92,132.57 L125.66,132.91 L126.39,133.19 L127.13,134.98 L127.86,134.36 L128.6,135.28 L129.36,135.2 L130.15,135.92 L130.97,135.29 L131.79,135.4 L132.61,138.47 L133.41,137.12 L134.18,136.74 L134.91,138.56 L135.58,139.31 L136.18,137.81 L136.7,139.27 L138.36,139.06 L139,139.55" stroke="#4b9b4b" stroke-width="2.7"/>
<path d="M35.9,152 L35.96,151.49 L36.04,150.94 L36.12,150.36 L36.22,149.72 L36.32,149.02 L36.43,148.24 L36.55,147.38 L36.67,146.41 L36.8,145.35 L36.94,144.16 L37.08,142.84 L37.22,141.38 L37.36,139.77 L37.5,138 L37.55,137.3 L37.61,136.57 L37.66,135.81 L37.72,135.02 L37.78,134.21 L37.83,133.36 L37.89,132.5 L37.95,131.61 L38.01,130.7 L38.07,129.77 L38.13,128.81 L38.2,127.84 L38.26,126.85 L38.32,125.85 L38.38,124.83 L38.45,123.8 L38.51,122.75 L38.58,121.69 L38.64,120.62 L38.71,119.55 L38.78,118.46 L38.84,117.37 L38.91,116.28 L38.97,115.18 L39.04,114.07 L39.11,112.97 L39.17,111.86 L39.24,110.76 L39.31,109.65 L39.37,108.55 L39.44,107.45 L39.51,106.36 L39.57,105.28 L39.64,104.2 L39.7,103.14 L39.77,102.08 L39.84,101.03 L39.9,100 L39.96,99.02 L40.03,98.02 L40.09,97.01 L40.16,95.98 L40.23,94.95 L40.29,93.9 L40.36,92.84 L40.44,91.78 L40.51,90.7 L40.58,89.62 L40.65,88.54 L40.72,87.45 L40.8,86.36 L40.87,85.27 L40.94,84.18 L41.02,83.09 L41.09,82 L41.16,80.91 L41.23,79.83 L41.31,78.75 L41.38,77.68 L41.45,76.61 L41.51,75.56 L41.58,74.51 L41.65,73.48 L41.71,72.45 L41.78,71.44 L41.84,70.45 L41.9,69.46 L41.96,68.5 L42.01,67.55 L42.06,66.62 L42.12,65.72 L42.16,64.83 L42.21,63.96 L42.25,63.12 L42.3,62.3 L42.33,61.51 L42.37,60.74 L42.4,60 L42.46,58.44 L42.51,56.98 L42.54,55.61 L42.57,54.33 L42.58,53.13 L42.59,52 L42.58,50.94 L42.57,49.94 L42.56,49 L42.54,48.11 L42.51,47.26 L42.48,46.44 L42.45,45.66 L42.42,44.91 L42.39,44.17 L42.36,43.44 L42.33,42.72 L42.3,42 L42.23,40.47 L42.13,39.11 L42.02,37.92 L41.89,36.88 L41.77,35.97 L41.66,35.2 L41.57,34.55 L41.5,34" stroke="#e8b43c" stroke-width="1.25"/>
<path d="M47.6,-5 L47.6,-4.45 L47.6,-3.81 L47.61,-3.07 L47.61,-2.25 L47.61,-1.36 L47.61,-0.39 L47.61,0.65 L47.62,1.75 L47.63,2.91 L47.64,4.12 L47.66,5.37 L47.68,6.67 L47.7,8 L47.72,8.82 L47.74,9.69 L47.76,10.6 L47.78,11.55 L47.8,12.53 L47.83,13.54 L47.86,14.58 L47.89,15.63 L47.91,16.7 L47.94,17.79 L47.98,18.88 L48.01,19.97 L48.04,21.05 L48.07,22.14 L48.1,23.21 L48.13,24.26 L48.16,25.3 L48.19,26.3 L48.22,27.28 L48.25,28.23 L48.27,29.14 L48.3,30 L48.33,31.2 L48.36,32.35 L48.39,33.45 L48.41,34.51 L48.43,35.53 L48.44,36.52 L48.46,37.49 L48.49,38.43 L48.51,39.36 L48.54,40.29 L48.58,41.21 L48.62,42.14 L48.67,43.07 L48.73,44.03 L48.8,45 L48.88,46.08 L48.98,47.19 L49.07,48.33 L49.18,49.48 L49.29,50.64 L49.4,51.79 L49.52,52.93 L49.66,54.04 L49.79,55.12 L49.94,56.15 L50.09,57.12 L50.25,58.03 L50.42,58.86 L50.6,59.6 L51.22,61.28 L51.97,62.49 L52.75,63.36 L53.43,63.99 L53.9,64.5" stroke="#e8b43c" stroke-width="1.3"/>
<path d="M53.9,62.31 L54.16,63.49 L54.48,65.33 L54.86,62.02 L55.29,62.87 L55.75,61.95 L56.24,60.36 L56.75,62.82 L57.25,59.03 L57.76,60.49 L58.24,57.09 L58.7,56.06 L59.14,59.06 L59.58,56.51 L60.03,54.18 L60.47,55 L60.92,54.6 L61.37,55.29 L61.81,51.88 L62.26,51.81 L62.71,54.54 L63.15,53.04 L63.6,49.95 L64.21,50.18 L64.83,49.69 L65.44,50.63 L66.05,49.91 L66.66,50.56 L67.28,50.09 L67.89,48.47 L68.5,49.27 L69.2,49.17 L69.9,49.22 L70.61,48.02 L71.31,49.55 L72.01,49.43 L72.71,50.63 L73.4,47.43 L74,51.08 L74.6,47.57 L75.2,51.38 L75.8,51.03 L76.4,51.15 L77,53.81 L77.6,52.7 L78.2,52.73 L78.57,54.86 L78.95,55.8 L79.32,55.19 L79.7,54.78 L80.08,55.74 L80.45,56.42 L80.83,58.28 L81.21,57.03 L81.59,58.14 L81.97,59.55 L82.35,59.44 L82.72,59.79 L83.1,62.49 L83.51,63.4 L83.92,62.46 L84.33,62.83 L84.74,62.27 L85.15,63.42 L85.56,63.3 L85.97,65.83 L86.37,66.45 L86.78,64.84 L87.19,69.17 L87.6,67.1 L88,70.04 L88.4,70.63 L88.8,71.79 L89.2,69.03 L89.6,70.66 L90,73.45 L90.4,70.05 L90.8,70.83 L91.2,73.77 L91.6,74.08 L92,76.59 L92.4,76.53 L92.8,76.07 L93.24,78.76 L93.66,77.21 L94.09,77.79 L94.51,79.12 L94.93,78.36 L95.36,78.79 L95.8,80.44 L96.25,79.95 L96.71,83.25 L97.19,82.69 L97.7,82.71 L98.09,81.35 L98.49,83.15 L98.9,83.86 L99.32,85.2 L99.75,85.88 L100.18,87.89 L100.63,88.92 L101.07,87.43 L101.52,87.86 L101.97,89.33 L102.42,91.62 L102.87,89.31 L103.32,90.73 L103.76,92.58 L104.2,90.22 L104.7,91.47 L105.2,94.99 L105.7,94.84 L106.2,93.95 L106.7,92.64 L107.2,96.64 L107.7,96.2 L108.2,97.25 L108.7,98.48 L109.2,98.49 L109.7,96.87 L110.2,96.17 L110.7,97.26 L111.2,98.75 L111.68,99.22 L112.17,98.31 L112.65,98.78 L113.13,101.29 L113.61,101.67 L114.09,101.06 L114.58,104.43 L115.08,103.33 L115.59,101.16 L116.11,103.31 L116.65,105.5 L117.2,103.83 L117.73,106.02 L118.27,103.41 L118.83,105.22 L119.39,108.11 L119.97,107.43 L120.55,108.27 L121.14,106.63 L121.74,108.44 L122.33,109.14 L122.93,108.3 L123.53,110.44 L124.12,110.35 L124.71,112.84 L125.3,111.33 L125.93,111.01 L126.58,110.11 L127.24,110.66 L127.9,113.75 L128.57,111.2 L129.23,111.53 L129.89,112.19 L130.54,114.1 L131.17,115.76 L131.79,115.1 L132.39,116.23 L132.96,113.13 L133.5,113.12 L134.48,116.81 L135.43,114.99 L136.33,116.85 L137.17,115.28 L137.91,114.47 L138.53,114.92 L139,114.21" stroke="#e8b43c" stroke-width="3.0" stroke-opacity="0.4"/>
<path d="M53.9,64.43 L54.19,65.15 L54.55,62.96 L54.98,62.15 L55.47,63.3 L55.99,61.28 L56.54,59.97 L57.1,59.79 L57.66,59.67 L58.19,57.29 L58.7,58.06 L59.19,57.18 L59.67,56.69 L60.16,54.89 L60.65,55.85 L61.14,55.44 L61.64,54.89 L62.13,52.71 L62.62,53.19 L63.11,51.69 L63.6,52.2 L64.3,49.6 L65,51.25 L65.7,50.91 L66.4,49.14 L67.1,48.78 L67.8,48.51 L68.5,48.3 L69.32,46.73 L70.14,49.38 L70.96,47.42 L71.77,47.53 L72.59,47.61 L73.4,48.4 L74.09,50.36 L74.78,48.58 L75.46,49.25 L76.14,51.49 L76.82,50.71 L77.51,50.94 L78.2,53.38 L78.64,53.9 L79.08,54.4 L79.53,55.6 L79.97,54.67 L80.42,57.58 L80.87,57.95 L81.31,56.87 L81.76,57.88 L82.21,59.7 L82.65,60.48 L83.1,60.58 L83.59,60.9 L84.08,62.45 L84.57,62.43 L85.06,64.43 L85.56,65.9 L86.05,64.62 L86.54,66.53 L87.03,67.74 L87.51,66.83 L88,69.41 L88.44,70.4 L88.88,69.54 L89.31,70.31 L89.75,72.16 L90.18,71.97 L90.62,72.29 L91.05,74.49 L91.49,74.7 L91.92,74.14 L92.36,74.53 L92.8,75.44 L93.28,76.41 L93.75,78.59 L94.21,78.74 L94.68,79.67 L95.14,80.03 L95.62,80.75 L96.11,79.19 L96.62,81.17 L97.14,83.12 L97.7,83.82 L98.15,82.53 L98.61,83.68 L99.09,84.96 L99.58,84.93 L100.08,86.13 L100.59,85.58 L101.11,87.35 L101.63,88.29 L102.15,87.67 L102.67,88.72 L103.18,91.73 L103.7,91.85 L104.2,92.92 L104.79,92.76 L105.38,93.91 L105.97,94.74 L106.56,95.33 L107.15,93.53 L107.75,95.79 L108.34,95.29 L108.93,97 L109.52,96.42 L110.11,97.74 L110.7,99.39 L111.28,99.13 L111.86,98.69 L112.43,100.03 L113,100.39 L113.56,102.43 L114.14,101.16 L114.72,101.81 L115.31,103.35 L115.92,102.47 L116.55,104.38 L117.2,105.98 L117.82,105.28 L118.46,105.14 L119.11,106.24 L119.78,106.98 L120.46,106.46 L121.14,106.93 L121.84,107.49 L122.53,108.48 L123.23,109.31 L123.93,109.48 L124.62,109.83 L125.3,109.85 L126.05,111.61 L126.82,112.9 L127.6,112.72 L128.39,113.06 L129.17,113.71 L129.95,112.86 L130.71,114.67 L131.46,114.33 L132.17,114.9 L132.86,115.37 L133.5,115.21 L134.64,115.1 L135.74,115.1 L136.76,115.14 L137.67,115.99 L138.43,115.64 L139,116.24" stroke="#e8b43c" stroke-width="2.7"/>
<path d="M35.9,125 L35.95,124.47 L36.01,123.89 L36.08,123.26 L36.15,122.57 L36.22,121.84 L36.31,121.06 L36.39,120.24 L36.48,119.37 L36.58,118.47 L36.68,117.52 L36.78,116.54 L36.88,115.52 L36.99,114.47 L37.1,113.39 L37.21,112.28 L37.32,111.14 L37.43,109.98 L37.55,108.79 L37.66,107.59 L37.77,106.36 L37.88,105.12 L37.99,103.86 L38.09,102.58 L38.2,101.3 L38.3,100 L38.36,99.18 L38.43,98.35 L38.49,97.51 L38.56,96.66 L38.63,95.8 L38.7,94.93 L38.77,94.04 L38.85,93.15 L38.92,92.25 L38.99,91.34 L39.07,90.41 L39.14,89.48 L39.22,88.54 L39.29,87.59 L39.37,86.63 L39.44,85.66 L39.52,84.68 L39.59,83.69 L39.66,82.69 L39.74,81.69 L39.81,80.67 L39.88,79.65 L39.95,78.62 L40.02,77.58 L40.09,76.54 L40.16,75.48 L40.23,74.42 L40.29,73.35 L40.35,72.28 L40.41,71.2 L40.47,70.11 L40.53,69.01 L40.59,67.9 L40.64,66.79 L40.69,65.68 L40.74,64.55 L40.78,63.42 L40.82,62.29 L40.86,61.15 L40.9,60 L40.93,59.1 L40.95,58.19 L40.97,57.25 L40.99,56.29 L41.01,55.31 L41.03,54.31 L41.05,53.3 L41.06,52.27 L41.08,51.23 L41.09,50.17 L41.1,49.1 L41.11,48.02 L41.12,46.93 L41.13,45.83 L41.14,44.72 L41.14,43.61 L41.15,42.49 L41.15,41.36 L41.15,40.23 L41.16,39.1 L41.16,37.97 L41.16,36.83 L41.16,35.7 L41.16,34.57 L41.16,33.44 L41.16,32.31 L41.15,31.19 L41.15,30.08 L41.15,28.97 L41.15,27.87 L41.14,26.78 L41.14,25.71 L41.14,24.64 L41.13,23.58 L41.13,22.54 L41.12,21.52 L41.12,20.51 L41.12,19.51 L41.11,18.54 L41.11,17.58 L41.11,16.65 L41.1,15.73 L41.1,14.84 L41.1,13.97 L41.1,13.13 L41.1,12.31 L41.09,11.52 L41.09,10.75 L41.09,10.02 L41.1,9.32 L41.1,8.64 L41.1,8 L41.11,5.69 L41.12,3.72 L41.13,2.07 L41.14,0.7 L41.15,-0.43 L41.16,-1.36 L41.17,-2.11 L41.17,-2.72 L41.18,-3.24 L41.19,-3.69 L41.19,-4.11 L41.2,-4.53 L41.2,-5" stroke="#e2852f" stroke-width="1.25"/>
<path d="M49.5,-5 L49.5,-4.42 L49.51,-3.71 L49.52,-2.87 L49.52,-1.93 L49.53,-0.9 L49.54,0.19 L49.55,1.32 L49.56,2.48 L49.57,3.65 L49.57,4.8 L49.58,5.92 L49.59,7 L49.6,8 L49.6,9.03 L49.6,10.05 L49.59,11.06 L49.57,12.06 L49.56,13.05 L49.55,14.04 L49.54,15.02 L49.55,16.01 L49.56,17 L49.59,17.99 L49.64,18.99 L49.7,20 L49.78,21.04 L49.88,22.12 L49.99,23.24 L50.12,24.36 L50.25,25.49 L50.4,26.61 L50.55,27.71 L50.71,28.77 L50.88,29.78 L51.05,30.73 L51.23,31.61 L51.4,32.4 L51.81,34 L52.23,35.28 L52.7,36.29 L53.24,37.11 L53.9,37.8 L55.05,38.38 L56.46,38.64 L57.78,38.72 L58.7,38.8" stroke="#e2852f" stroke-width="2.4"/>
<path d="M58.7,35.87 L59.09,41.78 L59.58,40.2 L60.17,39.78 L60.83,34.37 L61.54,34.05 L62.29,34.66 L63.05,34.61 L63.8,35.09 L64.52,35.37 L65.2,32.49 L65.93,34.24 L66.68,36.39 L67.43,32.54 L68.18,37.21 L68.92,34.82 L69.65,35.64 L70.36,31.88 L71.05,33.08 L71.7,34.9 L72.48,32.35 L73.2,29.77 L73.89,36.27 L74.55,36.09 L75.21,32.73 L75.89,31.38 L76.6,38.2 L77,36.75 L77.41,32.99 L77.83,35.07 L78.26,34.69 L78.69,40.54 L79.12,36.81 L79.55,42.89 L79.98,42.34 L80.4,39.28 L80.82,42.68 L81.22,41.95 L81.62,44.11 L82,44.97 L82.6,43.2 L83.18,42.91 L83.74,47.22 L84.28,45.31 L84.81,47.99 L85.32,47.34 L85.82,48.02 L86.3,48.98 L86.69,48.61 L87.04,48.38 L87.36,47.16 L87.66,50.63 L87.97,50.03 L88.3,51.04 L88.67,53.57 L89.1,50.69 L89.6,54.27 L89.97,51.56 L90.36,55.03 L90.78,56.02 L91.22,54.14 L91.69,55.98 L92.16,58.45 L92.65,57.55 L93.15,57.73 L93.65,57.02 L94.15,56.77 L94.65,58.72 L95.14,59.58 L95.63,59.25 L96.1,60.35 L96.53,60.15 L96.97,63.3 L97.4,63.73 L97.83,62.41 L98.27,63.04 L98.7,64.89 L99.13,65.19 L99.57,68.01 L100,66.01 L100.43,66.39 L100.87,69.62 L101.3,66.89 L101.73,69.36 L102.17,68.9 L102.6,71.61 L103.1,71.04 L103.61,72.6 L104.11,70.56 L104.62,73.38 L105.13,73.66 L105.63,73.62 L106.14,75.55 L106.64,76.4 L107.14,73.73 L107.64,75.04 L108.13,75.88 L108.62,75.69 L109.1,75.53 L109.65,77.08 L110.19,77.24 L110.72,80.03 L111.24,79.39 L111.75,78.38 L112.27,79.8 L112.79,80.9 L113.32,80.88 L113.86,80.45 L114.42,80.45 L115,80.61 L115.6,85.42 L116.2,84.73 L116.82,82.13 L117.45,85.33 L118.09,86.87 L118.74,85.36 L119.39,83.67 L120.06,85.73 L120.73,85.85 L121.41,85.12 L122.1,87.09 L122.69,85.04 L123.31,89.49 L123.93,88.63 L124.57,88.94 L125.22,90.71 L125.86,89.83 L126.51,88.42 L127.16,88.77 L127.79,88.65 L128.42,88.5 L129.03,92.17 L129.63,92.75 L130.2,90.59 L131.02,90.43 L131.83,92.75 L132.64,93.94 L133.43,94.52 L134.19,91.32 L134.9,94.25 L135.57,94.61 L136.17,94.36 L136.7,92.62 L137.86,92.25 L138.56,95.21 L139,92.99" stroke="#e2852f" stroke-width="3.0" stroke-opacity="0.4"/>
<path d="M58.7,40.72 L59.2,38.97 L59.87,37.57 L60.66,37.7 L61.54,37.01 L62.48,35.03 L63.42,38.6 L64.34,36.75 L65.2,38.19 L66.02,35.36 L66.86,35.82 L67.71,33.65 L68.55,32.28 L69.38,36.15 L70.19,35.49 L70.96,32.71 L71.7,35.4 L72.6,35.01 L73.43,32.68 L74.22,34.33 L74.99,36.41 L75.77,34.75 L76.6,37.64 L77.04,34.75 L77.48,36.01 L77.94,38.21 L78.4,36.54 L78.87,37.7 L79.34,41.16 L79.8,40.07 L80.26,41.73 L80.72,40.92 L81.16,41.41 L81.59,42.56 L82,42.62 L82.68,45.59 L83.34,44.3 L83.97,45.58 L84.58,44.81 L85.18,46.45 L85.75,46.56 L86.3,47.23 L86.74,46.89 L87.12,47.67 L87.47,50.29 L87.81,49.63 L88.17,50.03 L88.57,50.62 L89.04,51.66 L89.6,52.36 L90.03,52.38 L90.5,54.75 L91,54.48 L91.53,54.62 L92.08,56.83 L92.65,55.8 L93.23,56.99 L93.81,59.28 L94.4,58.01 L94.98,59.61 L95.55,61.43 L96.1,62.05 L96.6,60.91 L97.1,62.14 L97.6,63.87 L98.1,63.61 L98.6,65.96 L99.1,64.57 L99.6,67.37 L100.1,66.83 L100.6,66.76 L101.1,68.09 L101.6,67.87 L102.1,70.14 L102.6,69.53 L103.14,71.99 L103.69,71.78 L104.24,71.82 L104.79,72.12 L105.34,73.77 L105.89,73.28 L106.43,75.73 L106.98,74.22 L107.52,75.89 L108.05,76.54 L108.58,76.32 L109.1,78.26 L109.78,77.86 L110.43,79.28 L111.07,79.65 L111.7,79.53 L112.33,80.33 L112.97,80.04 L113.62,80.84 L114.3,83.26 L115,82.3 L115.66,83.71 L116.33,82.59 L117.01,84.28 L117.71,84.11 L118.41,84.89 L119.13,84.71 L119.86,84.46 L120.6,85.54 L121.34,85.71 L122.1,85.85 L122.8,87.92 L123.53,87.13 L124.28,87.92 L125.04,89.79 L125.8,89.88 L126.57,90.64 L127.33,91.02 L128.08,89.4 L128.81,90.2 L129.52,89.86 L130.2,92 L131.12,92.34 L132.04,91.78 L132.94,92.23 L133.81,93.16 L134.64,93.47 L135.41,92.39 L136.1,94.22 L136.7,92.99 L138.26,94.08 L139,92.91" stroke="#e2852f" stroke-width="2.7"/>
<path d="M35.9,95 L35.97,94.49 L36.06,93.94 L36.16,93.36 L36.27,92.73 L36.4,92.04 L36.53,91.28 L36.67,90.45 L36.82,89.53 L36.96,88.52 L37.1,87.41 L37.24,86.18 L37.37,84.84 L37.49,83.37 L37.6,81.76 L37.7,80 L37.73,79.29 L37.76,78.55 L37.8,77.78 L37.83,76.98 L37.85,76.14 L37.88,75.28 L37.91,74.39 L37.93,73.47 L37.96,72.53 L37.98,71.57 L38,70.59 L38.03,69.59 L38.05,68.57 L38.07,67.53 L38.09,66.48 L38.11,65.42 L38.13,64.34 L38.15,63.26 L38.17,62.16 L38.19,61.06 L38.21,59.96 L38.22,58.85 L38.24,57.74 L38.26,56.62 L38.28,55.51 L38.3,54.4 L38.32,53.3 L38.34,52.2 L38.36,51.11 L38.38,50.02 L38.39,48.95 L38.42,47.89 L38.44,46.84 L38.46,45.81 L38.48,44.79 L38.5,43.79 L38.53,42.81 L38.55,41.85 L38.57,40.91 L38.6,40 L38.63,38.87 L38.67,37.75 L38.7,36.62 L38.74,35.49 L38.78,34.36 L38.82,33.23 L38.86,32.11 L38.9,30.99 L38.94,29.88 L38.99,28.77 L39.03,27.67 L39.07,26.58 L39.12,25.5 L39.16,24.42 L39.2,23.36 L39.24,22.31 L39.29,21.28 L39.33,20.25 L39.37,19.25 L39.41,18.26 L39.45,17.28 L39.49,16.33 L39.53,15.39 L39.56,14.48 L39.6,13.58 L39.63,12.71 L39.67,11.86 L39.7,11.04 L39.72,10.24 L39.75,9.46 L39.78,8.72 L39.8,8 L39.85,6.34 L39.89,4.82 L39.92,3.44 L39.94,2.17 L39.96,1.02 L39.97,-0.02 L39.98,-0.96 L39.98,-1.81 L39.99,-2.58 L39.99,-3.28 L39.99,-3.91 L39.99,-4.48 L40,-5" stroke="#c9232e" stroke-width="1.25"/>
<path d="M50.5,-5 L50.51,-4.41 L50.51,-3.67 L50.51,-2.79 L50.5,-1.8 L50.5,-0.72 L50.5,0.41 L50.51,1.58 L50.52,2.77 L50.54,3.94 L50.56,5.07 L50.6,6.14 L50.64,7.13 L50.7,8 L50.82,9.27 L50.96,10.44 L51.12,11.54 L51.31,12.56 L51.51,13.51 L51.72,14.41 L51.96,15.27 L52.2,16.1 L52.64,17.32 L53.13,18.41 L53.66,19.37 L54.19,20.23 L54.7,21 L55.6,22.07 L56.48,22.87 L57.1,23.4" stroke="#c9232e" stroke-width="2.4"/>
<path d="M57.1,24.98 L57.53,22.78 L58.1,26.24 L58.77,24.12 L59.53,25.93 L60.34,23.45 L61.17,25.98 L62,25.42 L62.66,19.87 L63.37,24.03 L64.11,20.68 L64.87,23.61 L65.63,22.67 L66.39,23.48 L67.13,17.84 L67.84,19.47 L68.5,22.01 L69.3,23.31 L70.07,21.26 L70.8,15.78 L71.5,19.77 L72.17,15.71 L72.8,18.99 L73.4,20.91 L74.12,15.83 L74.72,22.38 L75.28,20.98 L75.88,18.35 L76.6,18.46 L77.12,20.76 L77.67,24.11 L78.24,22.55 L78.84,19.4 L79.47,19.14 L80.12,21.51 L80.8,25.11 L81.5,22.89 L81.99,24.93 L82.51,24.16 L83.05,26.38 L83.61,25.45 L84.18,24.86 L84.76,28.61 L85.33,27.59 L85.9,28.75 L86.46,29.77 L87,30.88 L87.51,27.16 L88,29.09 L88.55,28.77 L89.07,30.86 L89.56,33.04 L90.04,33.22 L90.5,30.31 L90.95,31.48 L91.41,34.87 L91.86,34.8 L92.32,34.1 L92.8,35.09 L93.2,34.21 L93.61,37.85 L94.02,36.41 L94.43,39.16 L94.83,38.59 L95.24,36.82 L95.65,38.58 L96.06,38.71 L96.47,42.38 L96.88,41.65 L97.29,39.83 L97.7,41.02 L98.11,42.51 L98.54,43.64 L98.96,44.8 L99.4,44.63 L99.83,45.16 L100.26,44.27 L100.68,47.5 L101.09,47.04 L101.49,46.25 L101.88,48.8 L102.25,51.69 L102.6,47.96 L103.17,49.18 L103.61,52.07 L103.99,50.72 L104.43,51.15 L105,52.72 L105.8,52.43 L106.18,54.18 L106.59,54.41 L107.03,56.77 L107.5,57.4 L108,53.6 L108.51,56.47 L109.05,57.94 L109.59,58.93 L110.15,59.03 L110.71,58.93 L111.28,59.46 L111.84,58.76 L112.4,58.89 L112.95,61.67 L113.48,62.46 L114,63.17 L114.63,62.48 L115.25,61.24 L115.88,63.72 L116.5,64.01 L117.12,63.36 L117.75,64.3 L118.37,63.38 L118.99,64.63 L119.61,64.32 L120.23,63.11 L120.85,64.69 L121.48,64.96 L122.1,68.29 L122.78,66.39 L123.47,66.24 L124.16,66.04 L124.86,66.35 L125.56,67.2 L126.25,66.59 L126.94,66.35 L127.62,70.55 L128.29,69 L128.94,69.3 L129.58,70.18 L130.2,69.31 L130.93,69.12 L131.67,69.09 L132.4,70.58 L133.12,71.04 L133.81,73.34 L134.48,72.96 L135.11,75.07 L135.69,72.74 L136.23,75.64 L136.7,74.37 L137.86,72.55 L138.56,73.05 L139,74.86" stroke="#c9232e" stroke-width="3.0" stroke-opacity="0.4"/>
<path d="M57.1,22.77 L57.61,23.57 L58.31,22.63 L59.14,24.73 L60.07,21.77 L61.03,20.65 L62,22.92 L62.75,22.98 L63.55,23.62 L64.39,22.76 L65.25,23.38 L66.11,23.23 L66.95,20.75 L67.75,20.47 L68.5,18.57 L69.43,18.89 L70.31,19.85 L71.16,17.11 L71.95,19.72 L72.7,17.04 L73.4,18.33 L74.28,21.09 L75,17.43 L75.72,17.88 L76.6,20.51 L77.2,19.74 L77.83,22.71 L78.5,19.74 L79.2,24.21 L79.93,24.81 L80.7,24.49 L81.5,24.09 L82.09,24.16 L82.72,25.73 L83.39,25.85 L84.07,26.14 L84.76,26.48 L85.45,27.34 L86.12,28.56 L86.78,29.59 L87.41,30.38 L88,28.86 L88.61,29.82 L89.18,30.81 L89.72,31.71 L90.24,31.68 L90.75,31.82 L91.26,32.1 L91.76,33.38 L92.27,34.41 L92.8,36.52 L93.29,37 L93.77,37.56 L94.26,38.57 L94.75,39.27 L95.24,39.05 L95.74,40.35 L96.23,39 L96.72,41.49 L97.21,42.06 L97.7,41.93 L98.15,43.39 L98.61,45.17 L99.08,44.59 L99.55,45.79 L100.02,45.56 L100.49,46.41 L100.94,48.64 L101.39,46.92 L101.81,48.01 L102.22,49.97 L102.6,49.85 L103.27,49.73 L103.76,51.94 L104.24,51.63 L104.87,52.82 L105.8,53.27 L106.23,54.01 L106.71,54.59 L107.23,54.63 L107.78,54.4 L108.36,55.16 L108.97,57.75 L109.59,57.4 L110.23,56.79 L110.87,59.5 L111.52,58.39 L112.16,58.53 L112.79,60.3 L113.41,60.03 L114,61.17 L114.74,61.9 L115.48,61.51 L116.22,62.96 L116.95,62.14 L117.69,63.7 L118.42,64.33 L119.16,63.32 L119.89,64.64 L120.63,64.1 L121.36,65.53 L122.1,67.12 L122.84,66.65 L123.59,67.5 L124.35,68 L125.11,66.58 L125.87,69.41 L126.63,69.02 L127.37,67.65 L128.11,70.05 L128.82,69.18 L129.52,68.92 L130.2,71.49 L131.02,70.83 L131.83,71.9 L132.64,70.59 L133.43,72.86 L134.19,71.32 L134.9,72.25 L135.57,73.03 L136.17,72.37 L136.7,74.26 L138.26,73.68 L139,73.94" stroke="#c9232e" stroke-width="2.7"/>
</g>
<g clip-path="url(#ca)" fill="none" stroke-width="1.45" stroke-dasharray="5,2.6">
<path d="M82.3,21.5 L75,48 L73.2,62" stroke="#2e3c92"/>
<path d="M72.6,62 L72.1,95 L70.4,140 L69.5,160" stroke="#e0683a"/>
</g>
<text x="87" y="21.7" font-size="14.5" text-anchor="start" fill="#252f7a" stroke="#252f7a" stroke-width="0.3" >γ</text>
<text x="54.5" y="198" font-size="15" text-anchor="start" fill="#c4262c" stroke="#c4262c" stroke-width="0.3" >α</text>
<text x="66.5" y="181" font-size="15" text-anchor="start" fill="#cd5e2a" stroke="#cd5e2a" stroke-width="0.3" >β</text>
<rect x="35.75" y="8.5" width="101.5" height="210.25" fill="none" stroke="#444" stroke-width="1.2"/>
<path d="M43.2,218.75 v-4.3 M58.87,218.75 v-4.3 M74.54,218.75 v-4.3 M90.21,218.75 v-4.3 M105.88,218.75 v-4.3 M121.55,218.75 v-4.3" stroke="#333" stroke-width="1.1"/>
<text x="51.2" y="234.6" font-size="12.4" text-anchor="middle" fill="#000" stroke="#000" stroke-width="0.3" >0</text>
<text x="75.7" y="234.6" font-size="12.4" text-anchor="middle" fill="#000" stroke="#000" stroke-width="0.3" >200</text>
<text x="105.9" y="234.6" font-size="12.4" text-anchor="middle" fill="#000" stroke="#000" stroke-width="0.3" >400</text>
<text x="135.9" y="234.6" font-size="12.4" text-anchor="middle" fill="#000" stroke="#000" stroke-width="0.3" >600</text>
<text x="170.8" y="78.2" font-size="12.4" text-anchor="end" fill="#000" stroke="#000" stroke-width="0.3" >294K</text>
<text x="170.8" y="97.8" font-size="12.4" text-anchor="end" fill="#000" stroke="#000" stroke-width="0.3" >269K</text>
<text x="170.8" y="120.5" font-size="12.4" text-anchor="end" fill="#000" stroke="#000" stroke-width="0.3" >245K</text>
<text x="170.8" y="144" font-size="12.4" text-anchor="end" fill="#000" stroke="#000" stroke-width="0.3" >229K</text>
<text x="170.8" y="166.7" font-size="12.4" text-anchor="end" fill="#000" stroke="#000" stroke-width="0.3" >159K</text>
<text x="170.8" y="190.4" font-size="12.4" text-anchor="end" fill="#000" stroke="#000" stroke-width="0.3" >118K</text>
<text x="170.8" y="204.5" font-size="12.4" text-anchor="end" fill="#000" stroke="#000" stroke-width="0.3" >69K</text>
<text x="170.8" y="220.3" font-size="12.4" text-anchor="end" fill="#000" stroke="#000" stroke-width="0.3" >44K</text>
<text x="-1" y="12.4" font-size="16" text-anchor="start" fill="#000" stroke="#000" stroke-width="0.3" >(a)</text>
<text x="88.9" y="255.6" font-size="16.2" text-anchor="middle" fill="#000" stroke="#000" stroke-width="0.3" >Energy loss (meV)</text>
<text transform="translate(24,114.3) rotate(-90)" font-size="16.2" text-anchor="middle" fill="#000" stroke="#000" stroke-width="0.3">Intensity (arb. units)</text>
<rect x="237.3" y="8.5" width="151.5" height="210.4" fill="url(#gb)"/>
<rect x="237.3" y="213.6" width="151.5" height="5.300000000000011" fill="#7f8182"/>
<g clip-path="url(#cb)">
<path d="M255.3,93.9 V113 M252.6,93.9 h5.4 M252.6,113 h5.4" stroke="#d3623a" stroke-width="1.3" fill="none"/>
<path d="M257.3,100 V117.5 M254.6,100 h5.4 M254.6,117.5 h5.4" stroke="#d3623a" stroke-width="1.3" fill="none"/>
<path d="M262,97.8 V116 M259.3,97.8 h5.4 M259.3,116 h5.4" stroke="#d3623a" stroke-width="1.3" fill="none"/>
<path d="M266,90 V114.6 M263.3,90 h5.4 M263.3,114.6 h5.4" stroke="#d3623a" stroke-width="1.3" fill="none"/>
<path d="M274.3,91.4 V117.1 M271.6,91.4 h5.4 M271.6,117.1 h5.4" stroke="#d3623a" stroke-width="1.3" fill="none"/>
<path d="M269.8,105.3 H281.8 M269.8,102.6 v5.4 M281.8,102.6 v5.4" stroke="#d3623a" stroke-width="1.3" fill="none"/>
<path d="M291.8,87.4 V101.1 M289.1,87.4 h5.4 M289.1,101.1 h5.4" stroke="#d3623a" stroke-width="1.3" fill="none"/>
<path d="M300.4,84.7 V103 M297.7,84.7 h5.4 M297.7,103 h5.4" stroke="#d3623a" stroke-width="1.3" fill="none"/>
<path d="M303.7,82.8 V107.3 M301,82.8 h5.4 M301,107.3 h5.4" stroke="#d3623a" stroke-width="1.3" fill="none"/>
<path d="M311,76.4 V107.3 M308.3,76.4 h5.4 M308.3,107.3 h5.4" stroke="#d3623a" stroke-width="1.3" fill="none"/>
<path d="M317.8,78.9 V113.5 M315.1,78.9 h5.4 M315.1,113.5 h5.4" stroke="#d3623a" stroke-width="1.3" fill="none"/>
<path d="M329.4,68.7 V100.2 M326.7,68.7 h5.4 M326.7,100.2 h5.4" stroke="#d3623a" stroke-width="1.3" fill="none"/>
<path d="M323.6,93.4 H334 M323.6,90.7 v5.4 M334,90.7 v5.4" stroke="#d3623a" stroke-width="1.3" fill="none"/>
<path d="M343.8,47.6 V91 M341.1,47.6 h5.4 M341.1,91 h5.4" stroke="#d3623a" stroke-width="1.3" fill="none"/>
<circle cx="255.3" cy="104" r="3.85" fill="#d3623a"/>
<circle cx="257.3" cy="108.8" r="3.85" fill="#d3623a"/>
<circle cx="262" cy="107.8" r="3.85" fill="#d3623a"/>
<circle cx="266" cy="105.9" r="3.85" fill="#d3623a"/>
<circle cx="274.3" cy="105.3" r="3.85" fill="#d3623a"/>
<circle cx="291.8" cy="95.7" r="3.85" fill="#d3623a"/>
<circle cx="300.4" cy="93.8" r="3.85" fill="#d3623a"/>
<circle cx="303.7" cy="100.5" r="3.85" fill="#d3623a"/>
<circle cx="311" cy="95.3" r="3.85" fill="#d3623a"/>
<circle cx="317.8" cy="98.6" r="3.85" fill="#d3623a"/>
<circle cx="329.4" cy="93.4" r="3.85" fill="#d3623a"/>
<circle cx="343.8" cy="73.3" r="3.85" fill="#d3623a"/>
<path d="M350.8,33.8 V74.3 M348.1,33.8 h5.4 M348.1,74.3 h5.4" stroke="#2d3572" stroke-width="1.3" fill="none"/>
<path d="M354.7,29.6 V86 M352,29.6 h5.4 M352,86 h5.4" stroke="#2d3572" stroke-width="1.3" fill="none"/>
<path d="M355.6,34.6 V85.5 M352.9,34.6 h5.4 M352.9,85.5 h5.4" stroke="#2d3572" stroke-width="1.3" fill="none"/>
<path d="M362.2,33.1 V75.3 M359.5,33.1 h5.4 M359.5,75.3 h5.4" stroke="#2d3572" stroke-width="1.3" fill="none"/>
<path d="M367.4,28.1 V56.6 M364.7,28.1 h5.4 M364.7,56.6 h5.4" stroke="#2d3572" stroke-width="1.3" fill="none"/>
<path d="M374.3,11.8 V64.7 M371.6,11.8 h5.4 M371.6,64.7 h5.4" stroke="#2d3572" stroke-width="1.3" fill="none"/>
<circle cx="350.8" cy="52.4" r="3.85" fill="#2d3572"/>
<circle cx="354.7" cy="52.2" r="3.85" fill="#2d3572"/>
<circle cx="355.6" cy="64.2" r="3.85" fill="#2d3572"/>
<circle cx="362.2" cy="56" r="3.85" fill="#2d3572"/>
<circle cx="367.4" cy="40.4" r="3.85" fill="#2d3572"/>
<circle cx="374.3" cy="33.5" r="3.85" fill="#2d3572"/>
<path d="M291.8,190.5 V202.9 M289.1,190.5 h5.4 M289.1,202.9 h5.4" stroke="#c8272f" stroke-width="1.3" fill="none"/>
<path d="M300.2,181.2 V210.7 M297.5,181.2 h5.4 M297.5,210.7 h5.4" stroke="#c8272f" stroke-width="1.3" fill="none"/>
<path d="M303.3,176.4 V202.1 M300.6,176.4 h5.4 M300.6,202.1 h5.4" stroke="#c8272f" stroke-width="1.3" fill="none"/>
<path d="M310.7,179.3 V207.3 M308,179.3 h5.4 M308,207.3 h5.4" stroke="#c8272f" stroke-width="1.3" fill="none"/>
<path d="M317.8,173.1 V203.4 M315.1,173.1 h5.4 M315.1,203.4 h5.4" stroke="#c8272f" stroke-width="1.3" fill="none"/>
<path d="M329.4,177 V193.2 M326.7,177 h5.4 M326.7,193.2 h5.4" stroke="#c8272f" stroke-width="1.3" fill="none"/>
<path d="M344,142.5 V197.8 M341.3,142.5 h5.4 M341.3,197.8 h5.4" stroke="#c8272f" stroke-width="1.3" fill="none"/>
<path d="M270.9,196.1 H281.5 M270.9,193.4 v5.4 M281.5,193.4 v5.4" stroke="#c8272f" stroke-width="1.3" fill="none"/>
<path d="M323.6,182.8 H335 M323.6,180.1 v5.4 M335,180.1 v5.4" stroke="#c8272f" stroke-width="1.3" fill="none"/>
<path d="M296,192.8 H309 M296,191.3 v3 M309,191.3 v3" stroke="#c8272f" stroke-width="1.3" fill="none"/>
<path d="M312.5,187 H323.5 M312.5,184.3 v5.4 M323.5,184.3 v5.4" stroke="#c8272f" stroke-width="1.3" fill="none"/>
<rect x="251.85" y="200.55" width="6.5" height="6.5" fill="#c8272f"/>
<rect x="254.15" y="197.65" width="6.5" height="6.5" fill="#c8272f"/>
<rect x="257.55" y="195.75" width="6.5" height="6.5" fill="#c8272f"/>
<rect x="259.95" y="195.15" width="6.5" height="6.5" fill="#c8272f"/>
<rect x="262.85" y="190.85" width="6.5" height="6.5" fill="#c8272f"/>
<rect x="271.45" y="192.85" width="6.5" height="6.5" fill="#c8272f"/>
<circle cx="291.8" cy="197.6" r="3.9" fill="#c8272f"/>
<rect x="296.95" y="189.55" width="6.5" height="6.5" fill="#c8272f"/>
<rect x="300.05" y="189.55" width="6.5" height="6.5" fill="#c8272f"/>
<rect x="307.45" y="186.65" width="6.5" height="6.5" fill="#c8272f"/>
<rect x="314.55" y="183.75" width="6.5" height="6.5" fill="#c8272f"/>
<rect x="326.15" y="179.55" width="6.5" height="6.5" fill="#c8272f"/>
<rect x="340.75" y="168.25" width="6.5" height="6.5" fill="#c8272f"/>
</g>
<rect x="244.8" y="19.3" width="7" height="7" fill="#c8272f"/>
<circle cx="248.2" cy="39.6" r="3.85" fill="#d3623a"/>
<circle cx="248.2" cy="56.9" r="3.85" fill="#2d3572"/>
<text x="261.2" y="26.8" font-size="12.5" text-anchor="start" fill="#000" stroke="#000" stroke-width="0.3" >α mode</text>
<text x="261.2" y="43.6" font-size="12.5" text-anchor="start" fill="#000" stroke="#000" stroke-width="0.3" >β mode</text>
<text x="261.2" y="60.3" font-size="12.5" text-anchor="start" fill="#000" stroke="#000" stroke-width="0.3" >γ mode</text>
<text x="349" y="195.5" font-size="8.6" text-anchor="start" fill="#000" stroke="#000" stroke-width="0.3" >resolution</text>
<path d="M367,198.9 V208" stroke="#222" stroke-width="1.1"/><path d="M364.8,206.5 L367,211 L369.2,206.5 Z" fill="#222"/>
<path d="M233.1,130.3 L241.1,127.0 L240.8,130.9 L232.8,134.1 Z M383.9,130.9 L393.2,127 L393.2,130.9 L383.9,134.7 Z" fill="#fff"/>
<path d="M237.3,128.6 V8.5 H388.8 V128.8 M388.8,132.8 V218.9 H237.3 V132.4" stroke="#222" stroke-width="1.2" fill="none"/>
<path d="M233.1,130.3 L241.1,127.0 M232.8,134.1 L240.8,130.9" stroke="#222" stroke-width="1.1"/>
<path d="M383.9,130.9 L393.2,127 M383.9,134.7 L393.2,130.9" stroke="#222" stroke-width="1.1"/>
<path d="M237.3,128.1 h3.5 M237.3,110.95 h2.2 M237.3,93.8 h3.5 M237.3,76.65 h2.2 M237.3,59.5 h3.5 M237.3,42.35 h2.2 M237.3,25.2 h3.5 M237.3,218.4 h3.5 M237.3,201.2 h2.2 M237.3,184 h3.5 M237.3,166.8 h2.2 M237.3,149.6 h3.5 M260.62,218.9 v-2.2 M283.93,218.9 v-3.5 M307.25,218.9 v-2.2 M330.56,218.9 v-3.5 M353.88,218.9 v-2.2 M377.19,218.9 v-3.5" stroke="#222" stroke-width="1"/>
<text x="232.6" y="132.1" font-size="12.4" text-anchor="end" fill="#000" stroke="#000" stroke-width="0.3" >160</text>
<text x="232.6" y="97.8" font-size="12.4" text-anchor="end" fill="#000" stroke="#000" stroke-width="0.3" >180</text>
<text x="232.6" y="63.5" font-size="12.4" text-anchor="end" fill="#000" stroke="#000" stroke-width="0.3" >200</text>
<text x="232.6" y="29.2" font-size="12.4" text-anchor="end" fill="#000" stroke="#000" stroke-width="0.3" >220</text>
<text x="232.6" y="222.4" font-size="12.4" text-anchor="end" fill="#000" stroke="#000" stroke-width="0.3" >80</text>
<text x="232.6" y="188" font-size="12.4" text-anchor="end" fill="#000" stroke="#000" stroke-width="0.3" >100</text>
<text x="232.6" y="153.6" font-size="12.4" text-anchor="end" fill="#000" stroke="#000" stroke-width="0.3" >120</text>
<text x="237.9" y="234.5" font-size="12.4" text-anchor="middle" fill="#000" stroke="#000" stroke-width="0.3" >0</text>
<text x="284" y="234.5" font-size="12.4" text-anchor="middle" fill="#000" stroke="#000" stroke-width="0.3" >100</text>
<text x="330" y="234.5" font-size="12.4" text-anchor="middle" fill="#000" stroke="#000" stroke-width="0.3" >200</text>
<text x="377.2" y="234.5" font-size="12.4" text-anchor="middle" fill="#000" stroke="#000" stroke-width="0.3" >300</text>
<text x="346.8" y="232.9" font-size="12.4" text-anchor="start" fill="#000" stroke="#000" stroke-width="0.3" >T</text>
<text x="354.3" y="237.5" font-size="10.5" fill="#111">c</text>
<text x="313.8" y="255.7" font-size="16.2" text-anchor="middle" fill="#000" stroke="#000" stroke-width="0.3" >Temperature (K)</text>
<text transform="translate(200.8,114.0) rotate(-90)" font-size="16.2" text-anchor="middle" fill="#000" stroke="#000" stroke-width="0.3">Energy (meV)</text>
<text x="185.8" y="12.4" font-size="16" text-anchor="start" fill="#000" stroke="#000" stroke-width="0.3" >(b)</text>
<rect x="474.6" y="8.5" width="148.79999999999995" height="210.4" fill="url(#gc)"/>
<g clip-path="url(#cc)">
<path d="M485.8,19.5 V51.9 M483.1,19.5 h5.4 M483.1,51.9 h5.4" stroke="#d3623a" stroke-width="1.3" fill="none"/>
<path d="M481,35.7 H491.2 M481,33 v5.4 M491.2,33 v5.4" stroke="#d3623a" stroke-width="1.3" fill="none"/>
<path d="M498,32.2 V67.6 M495.3,32.2 h5.4 M495.3,67.6 h5.4" stroke="#d3623a" stroke-width="1.3" fill="none"/>
<path d="M488.5,50.5 H507.4 M488.5,47.8 v5.4 M507.4,47.8 v5.4" stroke="#d3623a" stroke-width="1.3" fill="none"/>
<path d="M502,30.3 V69.5 M499.3,30.3 h5.4 M499.3,69.5 h5.4" stroke="#d3623a" stroke-width="1.3" fill="none"/>
<path d="M512.8,24 V74.9 M510.1,24 h5.4 M510.1,74.9 h5.4" stroke="#d3623a" stroke-width="1.3" fill="none"/>
<path d="M523.1,33.8 V82 M520.4,33.8 h5.4 M520.4,82 h5.4" stroke="#d3623a" stroke-width="1.3" fill="none"/>
<path d="M515.5,63.2 H531.8 M515.5,60.5 v5.4 M531.8,60.5 v5.4" stroke="#d3623a" stroke-width="1.3" fill="none"/>
<path d="M539,29.5 V77.6 M536.3,29.5 h5.4 M536.3,77.6 h5.4" stroke="#d3623a" stroke-width="1.3" fill="none"/>
<path d="M530.4,57.3 H547 M530.4,54.6 v5.4 M547,54.6 v5.4" stroke="#d3623a" stroke-width="1.3" fill="none"/>
<path d="M560,51.8 V99.6 M557.3,51.8 h5.4 M557.3,99.6 h5.4" stroke="#d3623a" stroke-width="1.3" fill="none"/>
<circle cx="485.8" cy="35.7" r="3.85" fill="#d3623a"/>
<circle cx="498" cy="50.5" r="3.85" fill="#d3623a"/>
<circle cx="502" cy="56" r="3.85" fill="#d3623a"/>
<circle cx="512.8" cy="48.6" r="3.85" fill="#d3623a"/>
<circle cx="523.1" cy="63.2" r="3.85" fill="#d3623a"/>
<circle cx="539" cy="57.3" r="3.85" fill="#d3623a"/>
<circle cx="560" cy="79.7" r="3.85" fill="#d3623a"/>
<path d="M569.9,44.7 V96.4 M567.2,44.7 h5.4 M567.2,96.4 h5.4" stroke="#2d3572" stroke-width="1.3" fill="none"/>
<path d="M575.1,32.4 V99.6 M572.4,32.4 h5.4 M572.4,99.6 h5.4" stroke="#2d3572" stroke-width="1.3" fill="none"/>
<path d="M569.3,70 H581.6 M569.3,67.3 v5.4 M581.6,67.3 v5.4" stroke="#2d3572" stroke-width="1.3" fill="none"/>
<path d="M577.3,46.3 V104.2 M574.6,46.3 h5.4 M574.6,104.2 h5.4" stroke="#2d3572" stroke-width="1.3" fill="none"/>
<path d="M585.6,62.6 V107.7 M582.9,62.6 h5.4 M582.9,107.7 h5.4" stroke="#2d3572" stroke-width="1.3" fill="none"/>
<path d="M593.1,62.6 V108.5 M590.4,62.6 h5.4 M590.4,108.5 h5.4" stroke="#2d3572" stroke-width="1.3" fill="none"/>
<path d="M588.2,95.3 H597.8 M588.2,92.6 v5.4 M597.8,92.6 v5.4" stroke="#2d3572" stroke-width="1.3" fill="none"/>
<path d="M602.9,67.2 V107.7 M600.2,67.2 h5.4 M600.2,107.7 h5.4" stroke="#2d3572" stroke-width="1.3" fill="none"/>
<circle cx="569.9" cy="74" r="3.85" fill="#2d3572"/>
<circle cx="575.1" cy="70" r="3.85" fill="#2d3572"/>
<circle cx="577.3" cy="76.2" r="3.85" fill="#2d3572"/>
<circle cx="585.6" cy="85.8" r="3.85" fill="#2d3572"/>
<circle cx="593.1" cy="95.3" r="3.85" fill="#2d3572"/>
<circle cx="602.9" cy="91" r="3.85" fill="#2d3572"/>
<path d="M485.8,134.9 V209.7 M483.1,134.9 h5.4 M483.1,209.7 h5.4" stroke="#c8272f" stroke-width="1.3" fill="none"/>
<path d="M481.8,165.7 H491.8 M481.8,163 v5.4 M491.8,163 v5.4" stroke="#c8272f" stroke-width="1.3" fill="none"/>
<path d="M497.6,125.4 V217.1 M494.9,125.4 h5.4 M494.9,217.1 h5.4" stroke="#c8272f" stroke-width="1.3" fill="none"/>
<path d="M502.1,152.2 V203.5 M499.4,152.2 h5.4 M499.4,203.5 h5.4" stroke="#c8272f" stroke-width="1.3" fill="none"/>
<path d="M512.8,154.3 V209.2 M510.1,154.3 h5.4 M510.1,209.2 h5.4" stroke="#c8272f" stroke-width="1.3" fill="none"/>
<path d="M522.9,150.3 V207.8 M520.2,150.3 h5.4 M520.2,207.8 h5.4" stroke="#c8272f" stroke-width="1.3" fill="none"/>
<path d="M514.5,185.4 H531.9 M514.5,182.7 v5.4 M531.9,182.7 v5.4" stroke="#c8272f" stroke-width="1.3" fill="none"/>
<path d="M539,182.7 V215.6 M536.3,182.7 h5.4 M536.3,215.6 h5.4" stroke="#c8272f" stroke-width="1.3" fill="none"/>
<path d="M530.5,191.4 H547.5 M530.5,188.7 v5.4 M547.5,188.7 v5.4" stroke="#c8272f" stroke-width="1.3" fill="none"/>
<path d="M559.7,199.1 V214.6 M557,199.1 h5.4 M557,214.6 h5.4" stroke="#c8272f" stroke-width="1.3" fill="none"/>
<path d="M488.6,177.2 H506 M488.6,174.5 v5.4 M506,174.5 v5.4" stroke="#c8272f" stroke-width="1.3" fill="none"/>
<rect x="482.55" y="162.45" width="6.5" height="6.5" fill="#c8272f"/>
<rect x="494.35" y="174.15" width="6.5" height="6.5" fill="#c8272f"/>
<rect x="498.85" y="173.55" width="6.5" height="6.5" fill="#c8272f"/>
<rect x="509.55" y="176.25" width="6.5" height="6.5" fill="#c8272f"/>
<rect x="519.65" y="182.15" width="6.5" height="6.5" fill="#c8272f"/>
<rect x="535.75" y="188.15" width="6.5" height="6.5" fill="#c8272f"/>
<circle cx="559.7" cy="207.8" r="3.9" fill="#c8272f"/>
<rect x="566.75" y="215.65" width="6.5" height="6.5" fill="#c8272f"/>
<rect x="571.25" y="215.65" width="6.5" height="6.5" fill="#c8272f"/>
<rect x="574.75" y="215.65" width="6.5" height="6.5" fill="#c8272f"/>
<rect x="579.75" y="215.65" width="6.5" height="6.5" fill="#c8272f"/>
<rect x="583.75" y="215.65" width="6.5" height="6.5" fill="#c8272f"/>
<rect x="588.25" y="215.65" width="6.5" height="6.5" fill="#c8272f"/>
<rect x="592.75" y="215.65" width="6.5" height="6.5" fill="#c8272f"/>
<rect x="596.75" y="215.65" width="6.5" height="6.5" fill="#c8272f"/>
<rect x="599.95" y="215.65" width="6.5" height="6.5" fill="#c8272f"/>
</g>
<rect x="559.8" y="128" width="6" height="6" fill="#c8272f"/>
<circle cx="562.5" cy="147.6" r="3.4" fill="#d3623a"/>
<circle cx="562.5" cy="165.4" r="3.4" fill="#2d3572"/>
<text x="574.8" y="134.8" font-size="12.5" text-anchor="start" fill="#000" stroke="#000" stroke-width="0.3" >α mode</text>
<text x="574.8" y="151.5" font-size="12.5" text-anchor="start" fill="#000" stroke="#000" stroke-width="0.3" >β mode</text>
<text x="574.8" y="168.4" font-size="12.5" text-anchor="start" fill="#000" stroke="#000" stroke-width="0.3" >γ mode</text>
<path d="M470.1,113.6 L478.6,109.6 L478.6,113.3 L470.1,117.0 Z M618.9,113.3 L627.7,109.2 L627.7,113.3 L618.9,116.9 Z" fill="#fff" fill-opacity="0.5"/>
<path d="M474.6,218.9 V8.5 H623.4 V218.9 H474.6" stroke="#222" stroke-width="1.2" fill="none"/>
<path d="M470.1,113.6 L478.6,109.6 M470.1,117.0 L478.6,113.3" stroke="#222" stroke-width="1.1"/>
<path d="M618.9,113.3 L627.7,109.2 M618.9,116.9 L627.7,113.3" stroke="#222" stroke-width="1.1"/>
<path d="M474.6,100.2 h2.2 M474.6,77.3 h3.5 M474.6,54.4 h2.2 M474.6,31.5 h3.5 M474.6,218.9 h3.5 M474.6,201.5 h2.2 M474.6,184.1 h3.5 M474.6,166.7 h2.2 M474.6,149.3 h3.5 M474.6,131.9 h2.2 M507.6,218.9 v-2.2 M540.8,218.9 v-3.5 M574,218.9 v-2.2 M607.2,218.9 v-3.5" stroke="#222" stroke-width="1"/>
<text x="468.3" y="35.9" font-size="12.4" text-anchor="end" fill="#000" stroke="#000" stroke-width="0.3" >0.4</text>
<text x="468.3" y="81.7" font-size="12.4" text-anchor="end" fill="#000" stroke="#000" stroke-width="0.3" >0.2</text>
<text x="468.3" y="223.3" font-size="12.4" text-anchor="end" fill="#000" stroke="#000" stroke-width="0.3" >0.00</text>
<text x="468.3" y="188.5" font-size="12.4" text-anchor="end" fill="#000" stroke="#000" stroke-width="0.3" >0.01</text>
<text x="468.3" y="153.7" font-size="12.4" text-anchor="end" fill="#000" stroke="#000" stroke-width="0.3" >0.02</text>
<text x="475.8" y="234.5" font-size="12.4" text-anchor="middle" fill="#000" stroke="#000" stroke-width="0.3" >100</text>
<text x="540.3" y="234.5" font-size="12.4" text-anchor="middle" fill="#000" stroke="#000" stroke-width="0.3" >200</text>
<text x="607.3" y="234.5" font-size="12.4" text-anchor="middle" fill="#000" stroke="#000" stroke-width="0.3" >300</text>
<text x="564.6" y="232.9" font-size="12.4" text-anchor="start" fill="#000" stroke="#000" stroke-width="0.3" >T</text>
<text x="571.7" y="237.6" font-size="10.5" fill="#111">c</text>
<text x="550.2" y="255.7" font-size="16.2" text-anchor="middle" fill="#000" stroke="#000" stroke-width="0.3" >Temperature (K)</text>
<text transform="translate(431.2,113.3) rotate(-90)" font-size="16.2" text-anchor="middle" fill="#000" stroke="#000" stroke-width="0.3">Normalized Intensity</text>
<text x="416.8" y="12.4" font-size="16" text-anchor="start" fill="#000" stroke="#000" stroke-width="0.3" >(c)</text>
</svg></body></html>
